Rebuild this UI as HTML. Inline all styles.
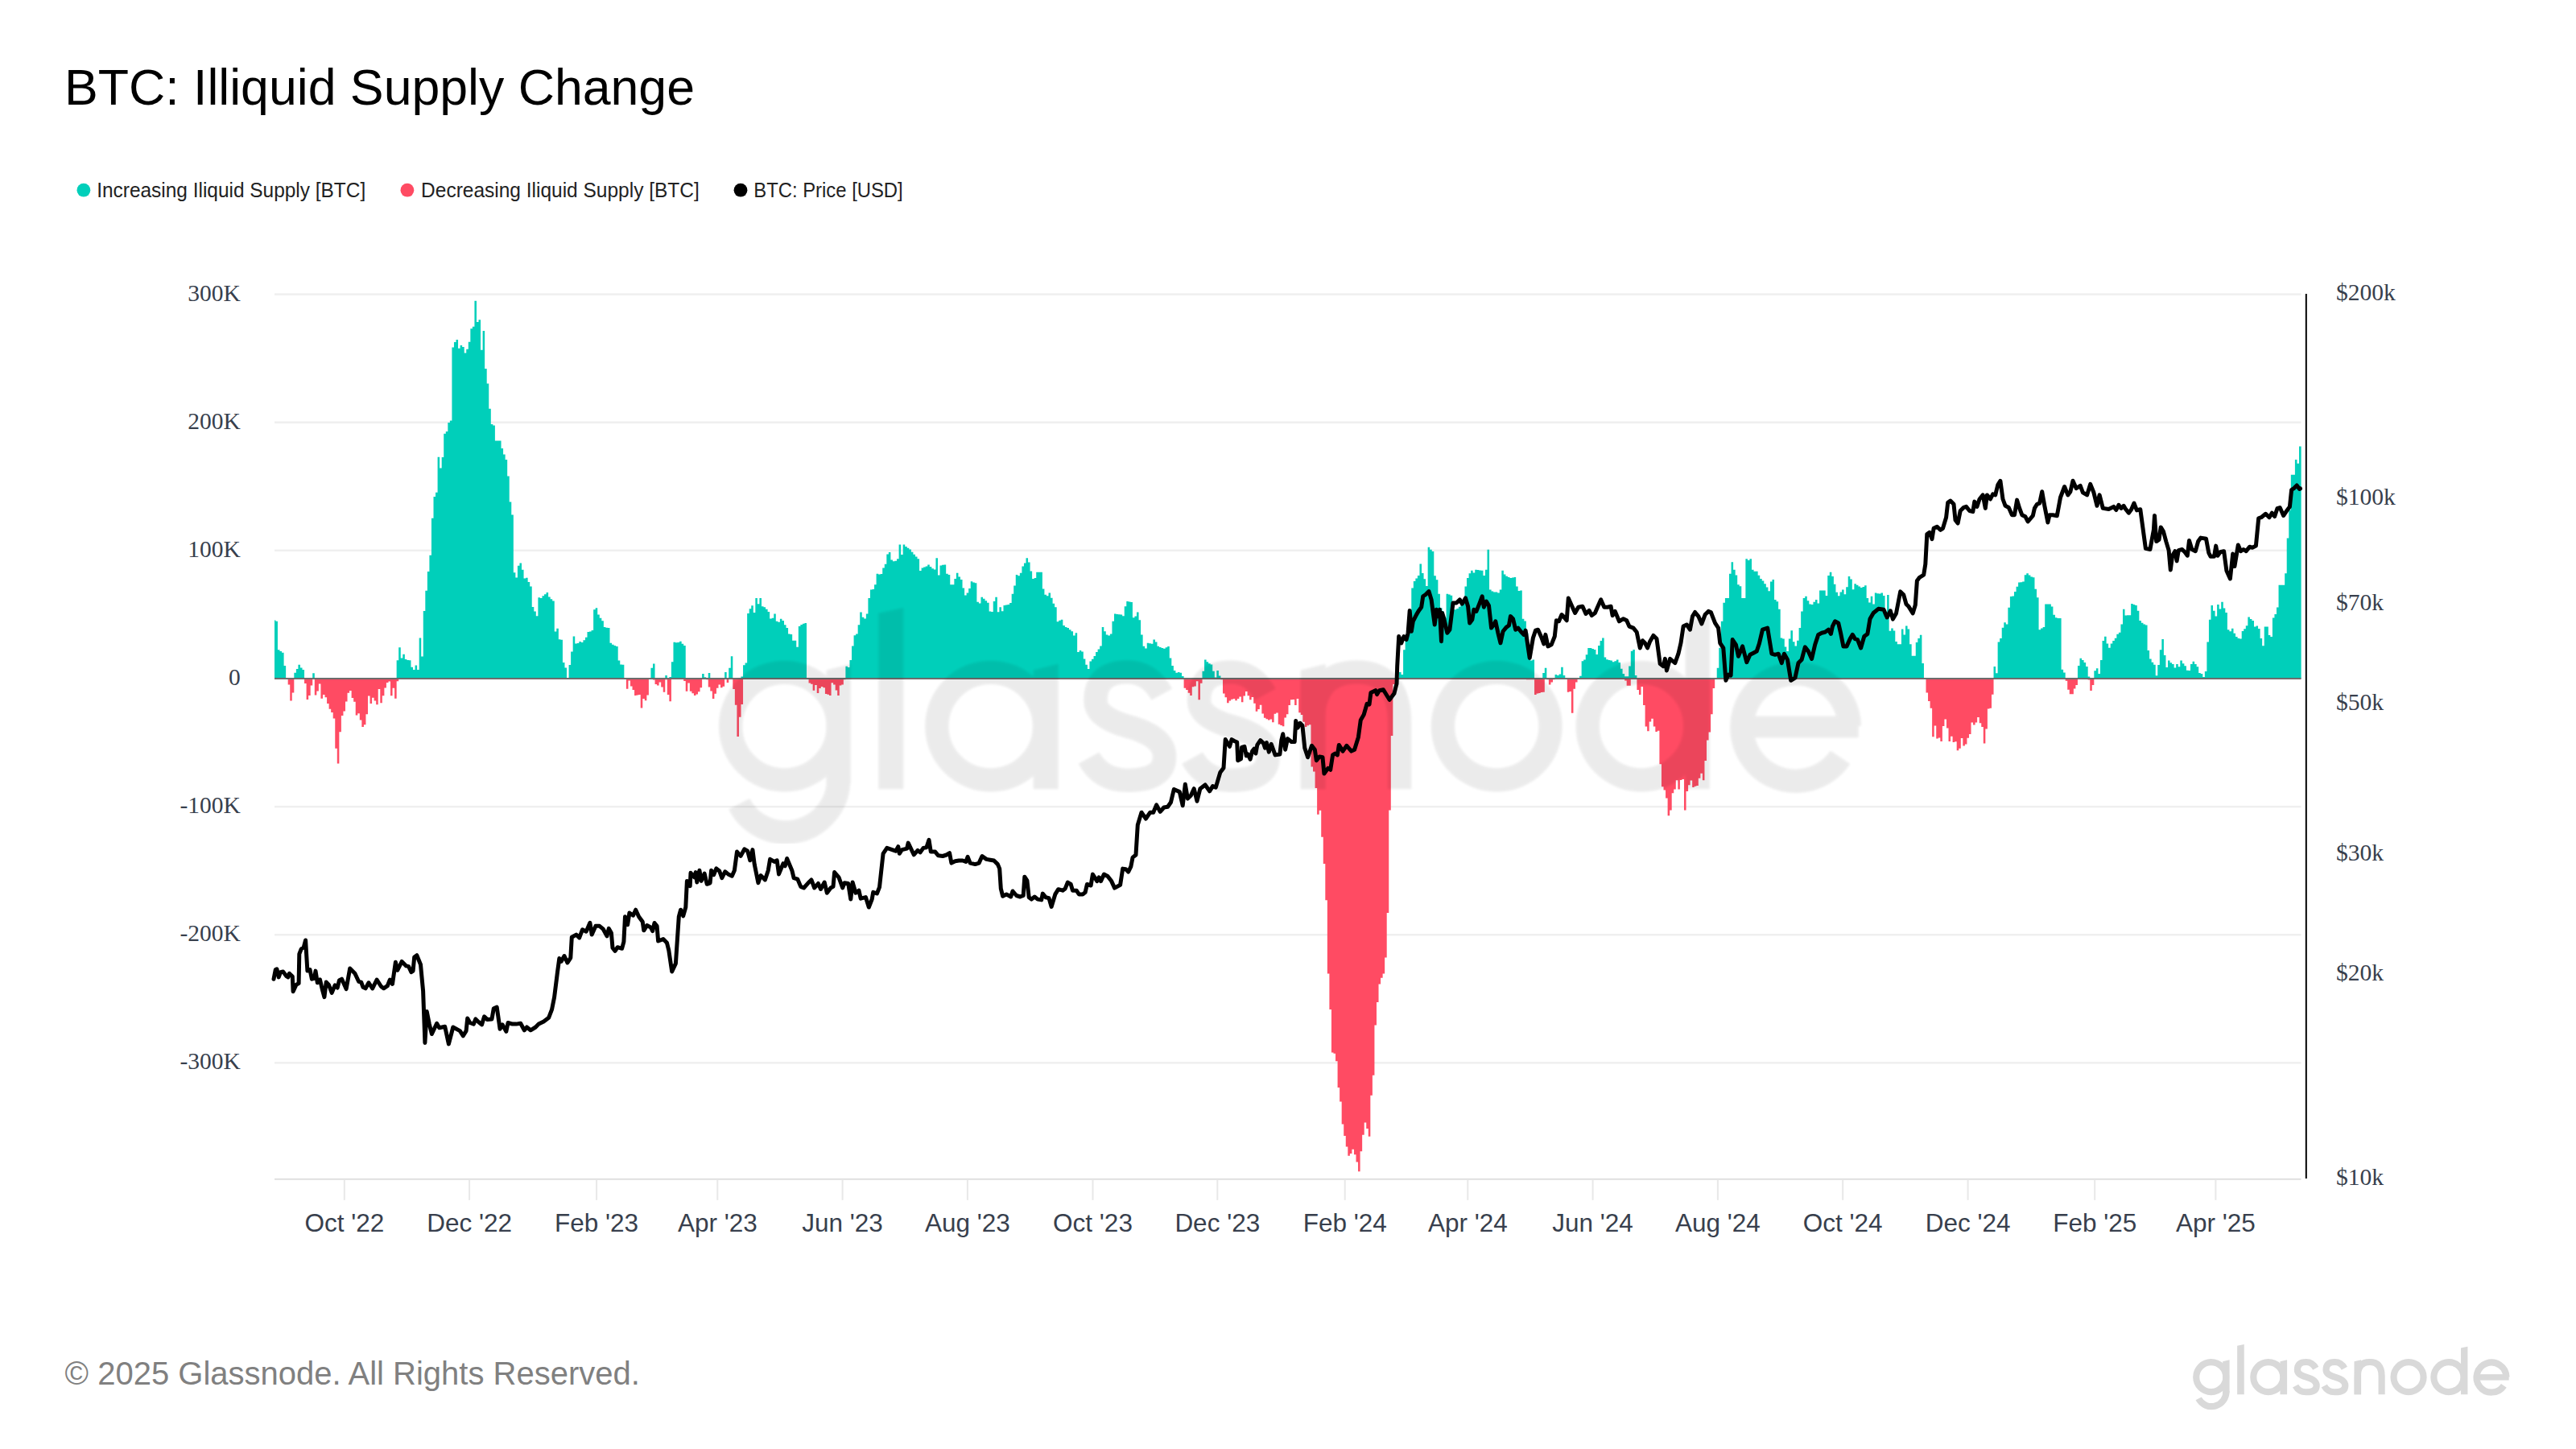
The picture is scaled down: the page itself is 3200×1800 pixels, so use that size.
<!DOCTYPE html>
<html><head><meta charset="utf-8"><title>BTC: Illiquid Supply Change</title>
<style>html,body{margin:0;padding:0;background:#fff;}body{width:3200px;height:1800px;position:relative;overflow:hidden;font-family:"Liberation Sans",sans-serif;}</style>
</head><body>
<svg width="3200" height="1800" viewBox="0 0 3200 1800" style="position:absolute;left:0;top:0"><rect x="341" y="364.35" width="2517.5" height="2.5" fill="#efefef"/><rect x="341" y="523.47" width="2517.5" height="2.5" fill="#efefef"/><rect x="341" y="682.59" width="2517.5" height="2.5" fill="#efefef"/><rect x="341" y="1000.83" width="2517.5" height="2.5" fill="#efefef"/><rect x="341" y="1159.95" width="2517.5" height="2.5" fill="#efefef"/><rect x="341" y="1319.0700000000002" width="2517.5" height="2.5" fill="#efefef"/><path d="M341.00 842.96L341.00 770.6L342.40 770.6L342.40 771.8L344.95 771.8L344.95 807.2L347.49 807.2L347.49 809.1L350.04 809.1L350.04 810.7L352.59 810.7L352.59 827.0L355.13 827.0L355.13 842.4L357.68 842.4L357.68 842.4L360.23 842.4L360.23 843.0L362.77 843.0L362.77 842.4L365.32 842.4L365.32 835.8L367.87 835.8L367.87 830.9L370.41 830.9L370.41 825.8L372.96 825.8L372.96 829.6L375.51 829.6L375.51 832.0L378.05 832.0L378.05 842.4L380.60 842.4L380.60 843.0L383.15 843.0L383.15 843.0L385.69 843.0L385.69 843.0L388.24 843.0L388.24 836.2L390.79 836.2L390.79 842.4L393.33 842.4L393.33 842.4L395.88 842.4L395.88 842.4L398.43 842.4L398.43 842.4L400.97 842.4L400.97 842.4L403.52 842.4L403.52 842.4L406.07 842.4L406.07 842.4L408.61 842.4L408.61 842.4L411.16 842.4L411.16 842.4L413.71 842.4L413.71 842.4L416.25 842.4L416.25 842.4L418.80 842.4L418.80 842.4L421.35 842.4L421.35 842.4L423.89 842.4L423.89 842.4L426.44 842.4L426.44 842.4L428.99 842.4L428.99 842.4L431.53 842.4L431.53 842.4L434.08 842.4L434.08 842.4L436.63 842.4L436.63 842.4L439.17 842.4L439.17 842.4L441.72 842.4L441.72 842.4L444.27 842.4L444.27 842.4L446.81 842.4L446.81 842.4L449.36 842.4L449.36 842.4L451.91 842.4L451.91 842.4L454.45 842.4L454.45 842.4L457.00 842.4L457.00 842.4L459.55 842.4L459.55 842.4L462.09 842.4L462.09 842.4L464.64 842.4L464.64 842.4L467.19 842.4L467.19 842.4L469.73 842.4L469.73 842.4L472.28 842.4L472.28 842.4L474.83 842.4L474.83 842.4L477.38 842.4L477.38 842.4L479.92 842.4L479.92 842.4L482.47 842.4L482.47 842.4L485.02 842.4L485.02 842.4L487.56 842.4L487.56 842.4L490.11 842.4L490.11 842.4L492.66 842.4L492.66 820.2L495.20 820.2L495.20 804.2L497.75 804.2L497.75 817.4L500.30 817.4L500.30 812.7L502.84 812.7L502.84 819.1L505.39 819.1L505.39 819.9L507.94 819.9L507.94 820.2L510.48 820.2L510.48 828.8L513.03 828.8L513.03 832.1L515.58 832.1L515.58 826.6L518.12 826.6L518.12 831.9L520.67 831.9L520.67 792.4L523.22 792.4L523.22 815.4L525.76 815.4L525.76 759.0L528.31 759.0L528.31 733.7L530.86 733.7L530.86 710.1L533.40 710.1L533.40 689.7L535.95 689.7L535.95 643.7L538.50 643.7L538.50 617.0L541.04 617.0L541.04 611.7L543.59 611.7L543.59 567.8L546.14 567.8L546.14 581.4L548.68 581.4L548.68 567.9L551.23 567.9L551.23 538.8L553.78 538.8L553.78 536.1L556.32 536.1L556.32 525.0L558.87 525.0L558.87 522.5L561.42 522.5L561.42 431.6L563.96 431.6L563.96 425.1L566.51 425.1L566.51 422.1L569.06 422.1L569.06 432.8L571.60 432.8L571.60 429.0L574.15 429.0L574.15 431.1L576.70 431.1L576.70 438.6L579.24 438.6L579.24 433.7L581.79 433.7L581.79 424.7L584.34 424.7L584.34 408.3L586.88 408.3L586.88 405.8L589.43 405.8L589.43 373.8L591.98 373.8L591.98 400.0L594.52 400.0L594.52 397.3L597.07 397.3L597.07 434.7L599.62 434.7L599.62 411.1L602.16 411.1L602.16 458.0L604.71 458.0L604.71 476.6L607.26 476.6L607.26 507.7L609.80 507.7L609.80 527.0L612.35 527.0L612.35 528.4L614.90 528.4L614.90 547.5L617.44 547.5L617.44 547.5L619.99 547.5L619.99 547.5L622.54 547.5L622.54 557.1L625.08 557.1L625.08 564.6L627.63 564.6L627.63 571.0L630.18 571.0L630.18 591.4L632.72 591.4L632.72 623.5L635.27 623.5L635.27 639.6L637.82 639.6L637.82 711.3L640.36 711.3L640.36 717.6L642.91 717.6L642.91 702.7L645.46 702.7L645.46 699.5L648.00 699.5L648.00 707.7L650.55 707.7L650.55 718.5L653.10 718.5L653.10 717.7L655.64 717.7L655.64 723.1L658.19 723.1L658.19 728.4L660.74 728.4L660.74 754.1L663.28 754.1L663.28 759.4L665.83 759.4L665.83 765.2L668.38 765.2L668.38 742.3L670.92 742.3L670.92 743.1L673.47 743.1L673.47 740.2L676.02 740.2L676.02 738.2L678.56 738.2L678.56 735.9L681.11 735.9L681.11 741.5L683.66 741.5L683.66 744.3L686.20 744.3L686.20 746.6L688.75 746.6L688.75 784.5L691.30 784.5L691.30 780.8L693.84 780.8L693.84 794.3L696.39 794.3L696.39 794.8L698.94 794.8L698.94 823.1L701.48 823.1L701.48 829.5L704.03 829.5L704.03 843.0L706.58 843.0L706.58 826.1L709.12 826.1L709.12 809.4L711.67 809.4L711.67 790.5L714.22 790.5L714.22 799.4L716.76 799.4L716.76 799.1L719.31 799.1L719.31 796.9L721.86 796.9L721.86 797.9L724.40 797.9L724.40 795.2L726.95 795.2L726.95 791.8L729.50 791.8L729.50 785.1L732.05 785.1L732.05 784.5L734.59 784.5L734.59 783.0L737.14 783.0L737.14 757.3L739.69 757.3L739.69 755.3L742.23 755.3L742.23 763.6L744.78 763.6L744.78 767.7L747.33 767.7L747.33 771.3L749.87 771.3L749.87 779.1L752.42 779.1L752.42 779.7L754.97 779.7L754.97 780.1L757.51 780.1L757.51 798.8L760.06 798.8L760.06 800.8L762.61 800.8L762.61 802.1L765.15 802.1L765.15 802.9L767.70 802.9L767.70 820.4L770.25 820.4L770.25 825.4L772.79 825.4L772.79 825.7L775.34 825.7L775.34 842.2L777.89 842.2L777.89 842.2L780.43 842.2L780.43 842.2L782.98 842.2L782.98 842.2L785.53 842.2L785.53 842.2L788.07 842.2L788.07 842.2L790.62 842.2L790.62 842.2L793.17 842.2L793.17 842.2L795.71 842.2L795.71 842.2L798.26 842.2L798.26 842.2L800.81 842.2L800.81 842.2L803.35 842.2L803.35 842.2L805.90 842.2L805.90 842.2L808.45 842.2L808.45 829.8L810.99 829.8L810.99 824.6L813.54 824.6L813.54 842.2L816.09 842.2L816.09 843.0L818.63 843.0L818.63 843.0L821.18 843.0L821.18 843.0L823.73 843.0L823.73 843.0L826.27 843.0L826.27 839.1L828.82 839.1L828.82 842.2L831.37 842.2L831.37 840.9L833.91 840.9L833.91 822.2L836.46 822.2L836.46 797.7L839.01 797.7L839.01 798.3L841.55 798.3L841.55 798.1L844.10 798.1L844.10 796.7L846.65 796.7L846.65 799.8L849.19 799.8L849.19 801.9L851.74 801.9L851.74 842.2L854.29 842.2L854.29 843.0L856.83 843.0L856.83 843.0L859.38 843.0L859.38 843.0L861.93 843.0L861.93 843.0L864.47 843.0L864.47 843.0L867.02 843.0L867.02 843.0L869.57 843.0L869.57 842.5L872.11 842.5L872.11 837.1L874.66 837.1L874.66 841.2L877.21 841.2L877.21 843.0L879.75 843.0L879.75 836.0L882.30 836.0L882.30 842.2L884.85 842.2L884.85 843.0L887.39 843.0L887.39 843.0L889.94 843.0L889.94 843.0L892.49 843.0L892.49 843.0L895.03 843.0L895.03 843.0L897.58 843.0L897.58 842.2L900.13 842.2L900.13 835.0L902.67 835.0L902.67 842.1L905.22 842.1L905.22 829.7L907.77 829.7L907.77 815.3L910.31 815.3L910.31 842.2L912.86 842.2L912.86 843.0L915.41 843.0L915.41 843.0L917.95 843.0L917.95 843.0L920.50 843.0L920.50 840.5L923.05 840.5L923.05 826.3L925.59 826.3L925.59 823.6L928.14 823.6L928.14 761.9L930.69 761.9L930.69 756.3L933.23 756.3L933.23 752.2L935.78 752.2L935.78 760.9L938.33 760.9L938.33 742.9L940.87 742.9L940.87 750.3L943.42 750.3L943.42 742.9L945.97 742.9L945.97 753.2L948.51 753.2L948.51 754.2L951.06 754.2L951.06 756.8L953.61 756.8L953.61 760.0L956.15 760.0L956.15 768.5L958.70 768.5L958.70 767.7L961.25 767.7L961.25 762.5L963.79 762.5L963.79 771.8L966.34 771.8L966.34 772.7L968.89 772.7L968.89 768.7L971.43 768.7L971.43 770.9L973.98 770.9L973.98 776.2L976.53 776.2L976.53 780.1L979.07 780.1L979.07 787.4L981.62 787.4L981.62 788.1L984.17 788.1L984.17 795.8L986.72 795.8L986.72 795.7L989.26 795.7L989.26 803.7L991.81 803.7L991.81 777.9L994.36 777.9L994.36 776.0L996.90 776.0L996.90 774.8L999.45 774.8L999.45 773.9L1002.00 773.9L1002.00 842.2L1004.54 842.2L1004.54 842.2L1007.09 842.2L1007.09 842.2L1009.64 842.2L1009.64 842.2L1012.18 842.2L1012.18 842.2L1014.73 842.2L1014.73 842.2L1017.28 842.2L1017.28 842.2L1019.82 842.2L1019.82 842.2L1022.37 842.2L1022.37 842.2L1024.92 842.2L1024.92 842.2L1027.46 842.2L1027.46 842.2L1030.01 842.2L1030.01 842.2L1032.56 842.2L1032.56 842.2L1035.10 842.2L1035.10 842.2L1037.65 842.2L1037.65 842.2L1040.20 842.2L1040.20 842.2L1042.74 842.2L1042.74 842.2L1045.29 842.2L1045.29 842.2L1047.84 842.2L1047.84 842.2L1050.38 842.2L1050.38 827.7L1052.93 827.7L1052.93 829.0L1055.48 829.0L1055.48 819.9L1058.02 819.9L1058.02 802.6L1060.57 802.6L1060.57 789.3L1063.12 789.3L1063.12 787.4L1065.66 787.4L1065.66 776.2L1068.21 776.2L1068.21 760.5L1070.76 760.5L1070.76 766.7L1073.30 766.7L1073.30 768.4L1075.85 768.4L1075.85 762.5L1078.40 762.5L1078.40 743.1L1080.94 743.1L1080.94 732.5L1083.49 732.5L1083.49 731.9L1086.04 731.9L1086.04 726.3L1088.58 726.3L1088.58 712.8L1091.13 712.8L1091.13 713.4L1093.68 713.4L1093.68 713.1L1096.22 713.1L1096.22 705.5L1098.77 705.5L1098.77 700.7L1101.32 700.7L1101.32 688.4L1103.86 688.4L1103.86 685.9L1106.41 685.9L1106.41 695.4L1108.96 695.4L1108.96 697.3L1111.50 697.3L1111.50 696.8L1114.05 696.8L1114.05 694.2L1116.60 694.2L1116.60 676.6L1119.14 676.6L1119.14 689.0L1121.69 689.0L1121.69 676.6L1124.24 676.6L1124.24 679.0L1126.78 679.0L1126.78 680.7L1129.33 680.7L1129.33 682.6L1131.88 682.6L1131.88 685.7L1134.42 685.7L1134.42 688.7L1136.97 688.7L1136.97 691.5L1139.52 691.5L1139.52 694.2L1142.06 694.2L1142.06 709.1L1144.61 709.1L1144.61 705.6L1147.16 705.6L1147.16 704.6L1149.70 704.6L1149.70 703.5L1152.25 703.5L1152.25 701.4L1154.80 701.4L1154.80 704.0L1157.34 704.0L1157.34 706.3L1159.89 706.3L1159.89 707.5L1162.44 707.5L1162.44 693.2L1164.98 693.2L1164.98 714.4L1167.53 714.4L1167.53 702.4L1170.08 702.4L1170.08 701.8L1172.62 701.8L1172.62 701.4L1175.17 701.4L1175.17 712.8L1177.72 712.8L1177.72 713.9L1180.26 713.9L1180.26 726.3L1182.81 726.3L1182.81 726.3L1185.36 726.3L1185.36 719.0L1187.90 719.0L1187.90 711.8L1190.45 711.8L1190.45 716.5L1193.00 716.5L1193.00 720.1L1195.54 720.1L1195.54 730.4L1198.09 730.4L1198.09 739.6L1200.64 739.6L1200.64 736.6L1203.18 736.6L1203.18 730.9L1205.73 730.9L1205.73 722.2L1208.28 722.2L1208.28 723.5L1210.82 723.5L1210.82 724.2L1213.37 724.2L1213.37 747.7L1215.92 747.7L1215.92 749.6L1218.46 749.6L1218.46 741.8L1221.01 741.8L1221.01 743.7L1223.56 743.7L1223.56 746.2L1226.10 746.2L1226.10 748.8L1228.65 748.8L1228.65 759.4L1231.20 759.4L1231.20 760.1L1233.75 760.1L1233.74 747.0L1236.29 747.0L1236.29 741.8L1238.84 741.8L1238.84 760.2L1241.39 760.2L1241.39 754.2L1243.93 754.2L1243.93 759.3L1246.48 759.3L1246.48 752.1L1249.03 752.1L1249.03 751.6L1251.57 751.6L1251.57 751.0L1254.12 751.0L1254.12 749.1L1256.67 749.1L1256.67 737.7L1259.21 737.7L1259.21 727.5L1261.76 727.5L1261.76 713.9L1264.31 713.9L1264.31 715.2L1266.85 715.2L1266.85 711.8L1269.40 711.8L1269.40 703.6L1271.95 703.6L1271.95 699.4L1274.49 699.4L1274.49 693.2L1277.04 693.2L1277.04 698.5L1279.59 698.5L1279.59 709.6L1282.13 709.6L1282.13 719.0L1284.68 719.0L1284.68 718.0L1287.23 718.0L1287.23 710.8L1289.77 710.8L1289.77 710.8L1292.32 710.8L1292.32 710.8L1294.87 710.8L1294.87 731.5L1297.41 731.5L1297.41 738.7L1299.96 738.7L1299.96 740.3L1302.51 740.3L1302.51 736.6L1305.05 736.6L1305.05 742.8L1307.60 742.8L1307.60 749.8L1310.15 749.8L1310.15 754.2L1312.69 754.2L1312.69 772.2L1315.24 772.2L1315.24 770.8L1317.79 770.8L1317.79 769.8L1320.33 769.8L1320.33 777.0L1322.88 777.0L1322.88 779.0L1325.43 779.0L1325.43 780.0L1327.97 780.0L1327.97 782.3L1330.52 782.3L1330.52 784.3L1333.07 784.3L1333.07 789.4L1335.61 789.4L1335.61 786.3L1338.16 786.3L1338.16 809.9L1340.71 809.9L1340.71 808.1L1343.25 808.1L1343.25 809.4L1345.80 809.4L1345.80 818.6L1348.35 818.6L1348.35 825.7L1350.89 825.7L1350.89 831.0L1353.44 831.0L1353.44 821.5L1355.99 821.5L1355.99 818.7L1358.53 818.7L1358.53 815.0L1361.08 815.0L1361.08 810.0L1363.63 810.0L1363.63 806.4L1366.17 806.4L1366.17 802.5L1368.72 802.5L1368.72 779.1L1371.27 779.1L1371.27 784.2L1373.81 784.2L1373.81 788.4L1376.36 788.4L1376.36 789.4L1378.91 789.4L1378.91 787.5L1381.45 787.5L1381.45 771.8L1384.00 771.8L1384.00 762.5L1386.55 762.5L1386.55 762.9L1389.09 762.9L1389.09 763.3L1391.64 763.3L1391.64 763.6L1394.19 763.6L1394.19 765.2L1396.73 765.2L1396.73 753.2L1399.28 753.2L1399.28 747.0L1401.83 747.0L1401.83 747.5L1404.37 747.5L1404.37 748.0L1406.92 748.0L1406.92 767.2L1409.47 767.2L1409.47 765.6L1412.01 765.6L1412.01 760.5L1414.56 760.5L1414.56 770.3L1417.11 770.3L1417.11 788.6L1419.65 788.6L1419.65 802.7L1422.20 802.7L1422.20 805.4L1424.75 805.4L1424.75 798.8L1427.29 798.8L1427.29 799.2L1429.84 799.2L1429.84 799.7L1432.39 799.7L1432.39 794.6L1434.93 794.6L1434.93 797.6L1437.48 797.6L1437.48 802.7L1440.03 802.7L1440.03 804.1L1442.57 804.1L1442.57 805.0L1445.12 805.0L1445.12 805.8L1447.67 805.8L1447.67 804.2L1450.21 804.2L1450.21 802.9L1452.76 802.9L1452.76 817.4L1455.31 817.4L1455.31 827.1L1457.85 827.1L1457.85 833.1L1460.40 833.1L1460.40 835.7L1462.95 835.7L1462.95 835.0L1465.49 835.0L1465.49 835.8L1468.04 835.8L1468.04 840.1L1470.59 840.1L1470.59 842.2L1473.13 842.2L1473.13 842.2L1475.68 842.2L1475.68 842.2L1478.23 842.2L1478.23 842.2L1480.77 842.2L1480.77 842.2L1483.32 842.2L1483.32 842.2L1485.87 842.2L1485.87 842.2L1488.42 842.2L1488.41 842.2L1490.96 842.2L1490.96 842.2L1493.51 842.2L1493.51 833.7L1496.06 833.7L1496.06 819.5L1498.60 819.5L1498.60 822.2L1501.15 822.2L1501.15 824.3L1503.70 824.3L1503.70 825.6L1506.24 825.6L1506.24 833.8L1508.79 833.8L1508.79 841.6L1511.34 841.6L1511.34 832.9L1513.88 832.9L1513.88 839.5L1516.43 839.5L1516.43 842.2L1518.98 842.2L1518.98 842.2L1521.52 842.2L1521.52 842.2L1524.07 842.2L1524.07 842.2L1526.62 842.2L1526.62 842.2L1529.16 842.2L1529.16 842.2L1531.71 842.2L1531.71 842.2L1534.26 842.2L1534.26 842.2L1536.80 842.2L1536.80 842.2L1539.35 842.2L1539.35 842.2L1541.90 842.2L1541.90 842.2L1544.44 842.2L1544.44 842.2L1546.99 842.2L1546.99 842.2L1549.54 842.2L1549.54 842.2L1552.08 842.2L1552.08 842.2L1554.63 842.2L1554.63 842.2L1557.18 842.2L1557.18 842.2L1559.72 842.2L1559.72 842.2L1562.27 842.2L1562.27 842.2L1564.82 842.2L1564.82 842.2L1567.36 842.2L1567.36 842.2L1569.91 842.2L1569.91 842.2L1572.46 842.2L1572.46 842.2L1575.00 842.2L1575.00 842.2L1577.55 842.2L1577.55 842.2L1580.10 842.2L1580.10 842.2L1582.64 842.2L1582.64 842.2L1585.19 842.2L1585.19 842.2L1587.74 842.2L1587.74 842.2L1590.28 842.2L1590.28 842.2L1592.83 842.2L1592.83 842.2L1595.38 842.2L1595.38 842.2L1597.92 842.2L1597.92 842.2L1600.47 842.2L1600.47 842.2L1603.02 842.2L1603.02 842.2L1605.56 842.2L1605.56 842.2L1608.11 842.2L1608.11 842.2L1610.66 842.2L1610.66 842.2L1613.20 842.2L1613.20 842.2L1615.75 842.2L1615.75 842.2L1618.30 842.2L1618.30 842.2L1620.84 842.2L1620.84 842.2L1623.39 842.2L1623.39 842.2L1625.94 842.2L1625.94 842.2L1628.48 842.2L1628.48 842.2L1631.03 842.2L1631.03 842.2L1633.58 842.2L1633.58 842.2L1636.12 842.2L1636.12 842.2L1638.67 842.2L1638.67 842.2L1641.22 842.2L1641.22 842.2L1643.76 842.2L1643.76 842.2L1646.31 842.2L1646.31 842.2L1648.86 842.2L1648.86 842.2L1651.40 842.2L1651.40 842.2L1653.95 842.2L1653.95 842.2L1656.50 842.2L1656.50 842.2L1659.04 842.2L1659.04 842.2L1661.59 842.2L1661.59 842.2L1664.14 842.2L1664.14 842.2L1666.68 842.2L1666.68 842.2L1669.23 842.2L1669.23 842.2L1671.78 842.2L1671.78 842.2L1674.32 842.2L1674.32 842.2L1676.87 842.2L1676.87 842.2L1679.42 842.2L1679.42 842.2L1681.96 842.2L1681.96 842.2L1684.51 842.2L1684.51 842.2L1687.06 842.2L1687.06 842.2L1689.60 842.2L1689.60 842.2L1692.15 842.2L1692.15 842.2L1694.70 842.2L1694.70 842.2L1697.24 842.2L1697.24 842.2L1699.79 842.2L1699.79 842.2L1702.34 842.2L1702.34 842.2L1704.88 842.2L1704.88 842.2L1707.43 842.2L1707.43 842.2L1709.98 842.2L1709.98 842.2L1712.52 842.2L1712.52 842.2L1715.07 842.2L1715.07 842.2L1717.62 842.2L1717.62 842.2L1720.16 842.2L1720.16 842.2L1722.71 842.2L1722.71 842.2L1725.26 842.2L1725.26 842.2L1727.80 842.2L1727.80 842.2L1730.35 842.2L1730.35 842.2L1732.90 842.2L1732.90 842.2L1735.44 842.2L1735.44 842.2L1737.99 842.2L1737.99 835.0L1740.54 835.0L1740.54 838.1L1743.09 838.1L1743.09 807.3L1745.63 807.3L1745.63 794.6L1748.18 794.6L1748.18 785.5L1750.73 785.5L1750.73 761.1L1753.27 761.1L1753.27 730.5L1755.82 730.5L1755.82 722.1L1758.37 722.1L1758.37 718.5L1760.91 718.5L1760.91 714.9L1763.46 714.9L1763.46 700.4L1766.01 700.4L1766.01 712.1L1768.55 712.1L1768.55 719.3L1771.10 719.3L1771.10 727.9L1773.65 727.9L1773.65 679.7L1776.19 679.7L1776.19 682.8L1778.74 682.8L1778.74 684.9L1781.29 684.9L1781.29 715.2L1783.83 715.2L1783.83 720.3L1786.38 720.3L1786.38 737.7L1788.93 737.7L1788.93 755.3L1791.47 755.3L1791.47 759.4L1794.02 759.4L1794.02 767.5L1796.57 767.5L1796.57 737.7L1799.11 737.7L1799.11 738.6L1801.66 738.6L1801.66 739.8L1804.21 739.8L1804.21 757.3L1806.75 757.3L1806.75 757.2L1809.30 757.2L1809.30 756.0L1811.85 756.0L1811.85 753.7L1814.39 753.7L1814.39 750.3L1816.94 750.3L1816.94 746.5L1819.49 746.5L1819.49 728.4L1822.03 728.4L1822.03 718.0L1824.58 718.0L1824.58 712.3L1827.13 712.3L1827.13 708.7L1829.67 708.7L1829.67 711.4L1832.22 711.4L1832.22 707.7L1834.77 707.7L1834.77 707.9L1837.31 707.9L1837.31 708.4L1839.86 708.4L1839.86 708.7L1842.41 708.7L1842.41 714.9L1844.95 714.9L1844.95 707.7L1847.50 707.7L1847.50 682.8L1850.05 682.8L1850.05 732.5L1852.59 732.5L1852.59 734.5L1855.14 734.5L1855.14 735.6L1857.69 735.6L1857.69 735.6L1860.23 735.6L1860.23 736.6L1862.78 736.6L1862.78 732.5L1865.33 732.5L1865.33 708.7L1867.87 708.7L1867.87 713.4L1870.42 713.4L1870.42 715.8L1872.97 715.8L1872.97 717.0L1875.51 717.0L1875.51 717.9L1878.06 717.9L1878.06 717.5L1880.61 717.5L1880.61 717.0L1883.15 717.0L1883.15 728.4L1885.70 728.4L1885.70 734.1L1888.25 734.1L1888.25 733.5L1890.79 733.5L1890.79 768.8L1893.34 768.8L1893.34 771.5L1895.89 771.5L1895.89 786.4L1898.43 786.4L1898.43 813.2L1900.98 813.2L1900.98 820.4L1903.53 820.4L1903.53 819.5L1906.07 819.5L1906.07 842.2L1908.62 842.2L1908.62 843.0L1911.17 843.0L1911.17 843.0L1913.71 843.0L1913.71 843.0L1916.26 843.0L1916.26 836.0L1918.81 836.0L1918.81 829.8L1921.35 829.8L1921.35 841.9L1923.90 841.9L1923.90 843.0L1926.45 843.0L1926.45 843.0L1928.99 843.0L1928.99 843.0L1931.54 843.0L1931.54 838.1L1934.09 838.1L1934.09 838.9L1936.63 838.9L1936.63 837.4L1939.18 837.4L1939.18 828.8L1941.73 828.8L1941.73 839.1L1944.27 839.1L1944.27 843.0L1946.82 843.0L1946.82 842.2L1949.37 842.2L1949.37 842.2L1951.91 842.2L1951.91 842.2L1954.46 842.2L1954.46 842.2L1957.01 842.2L1957.01 842.2L1959.55 842.2L1959.55 842.2L1962.10 842.2L1962.10 839.8L1964.65 839.8L1964.65 821.3L1967.19 821.3L1967.19 819.5L1969.74 819.5L1969.74 813.3L1972.29 813.3L1972.29 805.0L1974.83 805.0L1974.83 805.0L1977.38 805.0L1977.38 806.1L1979.93 806.1L1979.93 807.0L1982.47 807.0L1982.47 813.0L1985.02 813.0L1985.02 802.1L1987.57 802.1L1987.57 796.0L1990.11 796.0L1990.11 792.5L1992.66 792.5L1992.66 816.4L1995.21 816.4L1995.21 819.3L1997.75 819.3L1997.76 820.1L2000.30 820.1L2000.30 820.5L2002.85 820.5L2002.85 822.2L2005.40 822.2L2005.40 821.2L2007.94 821.2L2007.94 819.5L2010.49 819.5L2010.49 823.1L2013.04 823.1L2013.04 830.7L2015.58 830.7L2015.58 837.1L2018.13 837.1L2018.13 840.2L2020.68 840.2L2020.68 840.3L2023.22 840.3L2023.22 827.5L2025.77 827.5L2025.77 808.8L2028.32 808.8L2028.32 807.0L2030.86 807.0L2030.86 839.1L2033.41 839.1L2033.41 842.2L2035.96 842.2L2035.96 842.2L2038.50 842.2L2038.50 842.2L2041.05 842.2L2041.05 842.2L2043.60 842.2L2043.60 842.2L2046.14 842.2L2046.14 842.2L2048.69 842.2L2048.69 842.2L2051.24 842.2L2051.24 842.2L2053.78 842.2L2053.78 842.2L2056.33 842.2L2056.33 842.2L2058.88 842.2L2058.88 842.2L2061.42 842.2L2061.42 842.2L2063.97 842.2L2063.97 842.2L2066.52 842.2L2066.52 842.2L2069.06 842.2L2069.06 842.2L2071.61 842.2L2071.61 842.2L2074.16 842.2L2074.16 842.2L2076.70 842.2L2076.70 842.2L2079.25 842.2L2079.25 842.2L2081.80 842.2L2081.80 842.2L2084.34 842.2L2084.34 842.2L2086.89 842.2L2086.89 842.2L2089.44 842.2L2089.44 842.2L2091.98 842.2L2091.98 842.2L2094.53 842.2L2094.53 842.2L2097.08 842.2L2097.08 842.2L2099.62 842.2L2099.62 842.2L2102.17 842.2L2102.17 842.2L2104.72 842.2L2104.72 842.2L2107.26 842.2L2107.26 842.2L2109.81 842.2L2109.81 842.2L2112.36 842.2L2112.36 842.2L2114.90 842.2L2114.90 842.2L2117.45 842.2L2117.45 842.2L2120.00 842.2L2120.00 842.2L2122.54 842.2L2122.54 842.2L2125.09 842.2L2125.09 842.2L2127.64 842.2L2127.64 842.2L2130.18 842.2L2130.18 842.2L2132.73 842.2L2132.73 829.8L2135.28 829.8L2135.28 804.8L2137.82 804.8L2137.82 771.8L2140.37 771.8L2140.37 748.8L2142.92 748.8L2142.92 742.9L2145.46 742.9L2145.46 742.9L2148.01 742.9L2148.01 712.8L2150.56 712.8L2150.56 698.3L2153.10 698.3L2153.10 707.7L2155.65 707.7L2155.65 714.6L2158.20 714.6L2158.20 726.3L2160.74 726.3L2160.74 728.2L2163.29 728.2L2163.29 742.9L2165.84 742.9L2165.84 742.9L2168.38 742.9L2168.38 694.2L2170.93 694.2L2170.93 696.0L2173.48 696.0L2173.48 694.2L2176.02 694.2L2176.02 707.7L2178.57 707.7L2178.57 709.7L2181.12 709.7L2181.12 709.7L2183.66 709.7L2183.66 714.7L2186.21 714.7L2186.21 719.0L2188.76 719.0L2188.76 721.4L2191.30 721.4L2191.30 725.3L2193.85 725.3L2193.85 729.4L2196.40 729.4L2196.40 734.2L2198.94 734.2L2198.94 722.5L2201.49 722.5L2201.49 720.1L2204.04 720.1L2204.04 744.9L2206.58 744.9L2206.58 747.3L2209.13 747.3L2209.13 756.8L2211.68 756.8L2211.68 792.5L2214.22 792.5L2214.22 793.4L2216.77 793.4L2216.77 803.5L2219.32 803.5L2219.32 809.1L2221.86 809.1L2221.86 793.6L2224.41 793.6L2224.41 783.2L2226.96 783.2L2226.96 797.2L2229.50 797.2L2229.50 802.4L2232.05 802.4L2232.05 795.7L2234.60 795.7L2234.60 780.1L2237.14 780.1L2237.14 759.4L2239.69 759.4L2239.69 742.9L2242.24 742.9L2242.24 740.8L2244.78 740.8L2244.78 746.2L2247.33 746.2L2247.33 750.6L2249.88 750.6L2249.88 750.9L2252.42 750.9L2252.42 747.7L2254.97 747.7L2254.97 744.9L2257.52 744.9L2257.52 749.6L2260.07 749.6L2260.07 733.5L2262.61 733.5L2262.61 733.5L2265.16 733.5L2265.16 733.5L2267.71 733.5L2267.71 740.0L2270.25 740.0L2270.25 714.9L2272.80 714.9L2272.80 710.8L2275.35 710.8L2275.35 715.9L2277.89 715.9L2277.89 725.8L2280.44 725.8L2280.44 735.8L2282.99 735.8L2282.99 740.2L2285.53 740.2L2285.53 735.6L2288.08 735.6L2288.08 732.5L2290.63 732.5L2290.63 738.3L2293.17 738.3L2293.17 729.3L2295.72 729.3L2295.72 715.9L2298.27 715.9L2298.27 719.6L2300.81 719.6L2300.81 732.3L2303.36 732.3L2303.36 725.3L2305.91 725.3L2305.91 726.8L2308.45 726.8L2308.45 728.4L2311.00 728.4L2311.00 729.9L2313.55 729.9L2313.55 729.0L2316.09 729.0L2316.09 727.3L2318.64 727.3L2318.64 742.9L2321.19 742.9L2321.19 748.6L2323.73 748.6L2323.73 740.8L2326.28 740.8L2326.28 750.5L2328.83 750.5L2328.83 736.6L2331.37 736.6L2331.37 737.2L2333.92 737.2L2333.92 737.4L2336.47 737.4L2336.47 736.6L2339.01 736.6L2339.01 740.1L2341.56 740.1L2341.56 768.1L2344.11 768.1L2344.11 739.1L2346.65 739.1L2346.65 783.7L2349.20 783.7L2349.20 780.5L2351.75 780.5L2351.75 783.6L2354.29 783.6L2354.29 796.9L2356.84 796.9L2356.84 800.2L2359.39 800.2L2359.39 800.2L2361.93 800.2L2361.93 781.5L2364.48 781.5L2364.48 788.6L2367.03 788.6L2367.03 777.4L2369.57 777.4L2369.57 781.5L2372.12 781.5L2372.12 800.2L2374.67 800.2L2374.67 814.7L2377.21 814.7L2377.21 814.7L2379.76 814.7L2379.76 798.1L2382.31 798.1L2382.31 792.9L2384.85 792.9L2384.85 788.8L2387.40 788.8L2387.40 824.0L2389.95 824.0L2389.95 842.6L2392.49 842.6L2392.49 842.6L2395.04 842.6L2395.04 842.6L2397.59 842.6L2397.59 842.6L2400.13 842.6L2400.13 842.6L2402.68 842.6L2402.68 842.6L2405.23 842.6L2405.23 842.6L2407.77 842.6L2407.77 842.6L2410.32 842.6L2410.32 842.6L2412.87 842.6L2412.87 842.6L2415.41 842.6L2415.41 842.6L2417.96 842.6L2417.96 842.6L2420.51 842.6L2420.51 842.6L2423.05 842.6L2423.05 842.6L2425.60 842.6L2425.60 842.6L2428.15 842.6L2428.15 842.6L2430.69 842.6L2430.69 842.6L2433.24 842.6L2433.24 842.6L2435.79 842.6L2435.79 842.6L2438.33 842.6L2438.33 842.6L2440.88 842.6L2440.88 842.6L2443.43 842.6L2443.43 842.6L2445.97 842.6L2445.97 842.6L2448.52 842.6L2448.52 842.6L2451.07 842.6L2451.07 842.6L2453.61 842.6L2453.61 842.6L2456.16 842.6L2456.16 842.6L2458.71 842.6L2458.71 842.6L2461.25 842.6L2461.25 842.6L2463.80 842.6L2463.80 842.6L2466.35 842.6L2466.35 842.6L2468.89 842.6L2468.89 842.6L2471.44 842.6L2471.44 842.6L2473.99 842.6L2473.99 842.6L2476.53 842.6L2476.53 828.1L2479.08 828.1L2479.08 836.3L2481.63 836.3L2481.63 797.5L2484.17 797.5L2484.17 792.9L2486.72 792.9L2486.72 779.8L2489.27 779.8L2489.27 773.3L2491.81 773.3L2491.81 775.5L2494.36 775.5L2494.36 754.8L2496.91 754.8L2496.91 741.1L2499.45 741.1L2499.45 740.5L2502.00 740.5L2502.00 734.9L2504.55 734.9L2504.55 728.7L2507.09 728.7L2507.10 723.6L2509.64 723.6L2509.64 723.2L2512.19 723.2L2512.19 722.5L2514.74 722.5L2514.74 714.2L2517.28 714.2L2517.28 712.2L2519.83 712.2L2519.83 714.5L2522.38 714.5L2522.38 716.5L2524.92 716.5L2524.92 717.3L2527.47 717.3L2527.47 731.8L2530.02 731.8L2530.02 742.2L2532.56 742.2L2532.56 782.3L2535.11 782.3L2535.11 780.5L2537.66 780.5L2537.66 779.0L2540.20 779.0L2540.20 750.5L2542.75 750.5L2542.75 750.5L2545.30 750.5L2545.30 750.5L2547.84 750.5L2547.84 753.6L2550.39 753.6L2550.39 763.8L2552.94 763.8L2552.94 767.3L2555.48 767.3L2555.48 768.1L2558.03 768.1L2558.03 768.1L2560.58 768.1L2560.58 831.7L2563.12 831.7L2563.12 835.4L2565.67 835.4L2565.67 842.6L2568.22 842.6L2568.22 842.6L2570.76 842.6L2570.76 842.6L2573.31 842.6L2573.31 842.6L2575.86 842.6L2575.86 842.6L2578.40 842.6L2578.40 842.6L2580.95 842.6L2580.95 827.1L2583.50 827.1L2583.50 817.8L2586.04 817.8L2586.04 819.9L2588.59 819.9L2588.59 822.9L2591.14 822.9L2591.14 828.1L2593.68 828.1L2593.68 840.5L2596.23 840.5L2596.23 843.0L2598.78 843.0L2598.78 843.0L2601.32 843.0L2601.32 833.3L2603.87 833.3L2603.87 830.2L2606.42 830.2L2606.42 837.1L2608.96 837.1L2608.96 820.0L2611.51 820.0L2611.51 796.1L2614.06 796.1L2614.06 790.8L2616.60 790.8L2616.60 799.4L2619.15 799.4L2619.15 804.8L2621.70 804.8L2621.70 799.5L2624.24 799.5L2624.24 796.0L2626.79 796.0L2626.79 792.7L2629.34 792.7L2629.34 787.7L2631.88 787.7L2631.88 785.8L2634.43 785.8L2634.43 775.6L2636.98 775.6L2636.98 756.7L2639.52 756.7L2639.52 764.4L2642.07 764.4L2642.07 764.3L2644.62 764.3L2644.62 764.3L2647.16 764.3L2647.16 749.9L2649.71 749.9L2649.71 750.9L2652.26 750.9L2652.26 752.1L2654.80 752.1L2654.80 758.7L2657.35 758.7L2657.35 770.9L2659.90 770.9L2659.90 773.7L2662.44 773.7L2662.44 775.6L2664.99 775.6L2664.99 776.4L2667.54 776.4L2667.54 808.1L2670.08 808.1L2670.08 818.4L2672.63 818.4L2672.63 822.8L2675.18 822.8L2675.18 825.8L2677.72 825.8L2677.72 839.2L2680.27 839.2L2680.27 826.1L2682.82 826.1L2682.82 807.3L2685.36 807.3L2685.36 794.1L2687.91 794.1L2687.91 813.9L2690.46 813.9L2690.46 828.9L2693.00 828.9L2693.00 820.6L2695.55 820.6L2695.55 823.3L2698.10 823.3L2698.10 825.0L2700.64 825.0L2700.64 829.4L2703.19 829.4L2703.19 825.0L2705.74 825.0L2705.74 828.3L2708.28 828.3L2708.28 820.6L2710.83 820.6L2710.83 824.2L2713.38 824.2L2713.38 827.2L2715.92 827.2L2715.92 832.8L2718.47 832.8L2718.47 833.1L2721.02 833.1L2721.02 825.0L2723.56 825.0L2723.56 821.7L2726.11 821.7L2726.11 824.9L2728.66 824.9L2728.66 828.3L2731.20 828.3L2731.20 836.1L2733.75 836.1L2733.75 836.9L2736.30 836.9L2736.30 840.9L2738.84 840.9L2738.84 833.9L2741.39 833.9L2741.39 797.4L2743.94 797.4L2743.94 769.8L2746.48 769.8L2746.48 752.1L2749.03 752.1L2749.03 758.8L2751.58 758.8L2751.58 765.6L2754.12 765.6L2754.12 751.0L2756.67 751.0L2756.67 756.5L2759.22 756.5L2759.22 747.7L2761.76 747.7L2761.76 755.4L2764.31 755.4L2764.31 760.9L2766.86 760.9L2766.86 782.2L2769.41 782.2L2769.41 784.3L2771.95 784.3L2771.95 780.8L2774.50 780.8L2774.50 786.7L2777.05 786.7L2777.05 790.9L2779.59 790.9L2779.59 793.0L2782.14 793.0L2782.14 793.5L2784.69 793.5L2784.69 784.1L2787.23 784.1L2787.23 781.2L2789.78 781.2L2789.78 777.2L2792.33 777.2L2792.33 766.5L2794.87 766.5L2794.87 769.0L2797.42 769.0L2797.42 770.9L2799.97 770.9L2799.97 778.5L2802.51 778.5L2802.51 777.5L2805.06 777.5L2805.06 781.1L2807.61 781.1L2807.61 793.1L2810.15 793.1L2810.15 802.2L2812.70 802.2L2812.70 778.6L2815.25 778.6L2815.25 778.6L2817.79 778.6L2817.79 789.1L2820.34 789.1L2820.34 791.0L2822.89 791.0L2822.89 767.6L2825.43 767.6L2825.43 763.0L2827.98 763.0L2827.98 754.6L2830.53 754.6L2830.53 726.7L2833.07 726.7L2833.07 726.7L2835.62 726.7L2835.62 726.7L2838.17 726.7L2838.17 712.3L2840.71 712.3L2840.71 668.5L2843.26 668.5L2843.26 633.7L2845.81 633.7L2845.81 589.7L2848.35 589.7L2848.35 589.7L2850.90 589.7L2850.90 570.9L2853.45 570.9L2853.45 575.7L2855.99 575.7L2855.99 554.4L2858.54 554.4L2858.54 554.4L2858.60 554.4L2858.60 842.96Z" fill="#00cfba"/><path d="M341.00 842.96L341.00 843.0L342.40 843.0L342.40 843.0L344.95 843.0L344.95 843.0L347.49 843.0L347.49 843.0L350.04 843.0L350.04 843.0L352.59 843.0L352.59 843.0L355.13 843.0L355.13 843.0L357.68 843.0L357.68 850.4L360.23 850.4L360.23 870.4L362.77 870.4L362.77 860.5L365.32 860.5L365.32 843.0L367.87 843.0L367.87 843.0L370.41 843.0L370.41 843.0L372.96 843.0L372.96 843.0L375.51 843.0L375.51 843.0L378.05 843.0L378.05 849.0L380.60 849.0L380.60 869.1L383.15 869.1L383.15 864.1L385.69 864.1L385.69 851.6L388.24 851.6L388.24 843.0L390.79 843.0L390.79 863.5L393.33 863.5L393.33 858.5L395.88 858.5L395.88 849.4L398.43 849.4L398.43 867.7L400.97 867.7L400.97 863.1L403.52 863.1L403.52 866.2L406.07 866.2L406.07 874.0L408.61 874.0L408.61 880.8L411.16 880.8L411.16 884.9L413.71 884.9L413.71 892.5L416.25 892.5L416.25 929.8L418.80 929.8L418.80 948.4L421.35 948.4L421.35 909.3L423.89 909.3L423.89 889.0L426.44 889.0L426.44 883.6L428.99 883.6L428.99 871.4L431.53 871.4L431.53 860.8L434.08 860.8L434.08 858.1L436.63 858.1L436.63 867.0L439.17 867.0L439.17 871.8L441.72 871.8L441.72 888.4L444.27 888.4L444.27 886.3L446.81 886.3L446.81 894.6L449.36 894.6L449.36 902.9L451.91 902.9L451.91 900.2L454.45 900.2L454.45 887.2L457.00 887.2L457.00 864.6L459.55 864.6L459.55 873.9L462.09 873.9L462.09 866.7L464.64 866.7L464.64 870.4L467.19 870.4L467.19 875.3L469.73 875.3L469.73 856.0L472.28 856.0L472.28 873.2L474.83 873.2L474.83 864.3L477.38 864.3L477.38 854.6L479.92 854.6L479.92 847.9L482.47 847.9L482.47 846.4L485.02 846.4L485.02 864.2L487.56 864.2L487.56 854.8L490.11 854.8L490.11 867.7L492.66 867.7L492.66 846.2L495.20 846.2L495.20 843.0L497.75 843.0L497.75 843.0L500.30 843.0L500.30 843.0L502.84 843.0L502.84 843.0L505.39 843.0L505.39 843.0L507.94 843.0L507.94 843.0L510.48 843.0L510.48 843.0L513.03 843.0L513.03 843.0L515.58 843.0L515.58 843.0L518.12 843.0L518.12 843.0L520.67 843.0L520.67 843.0L523.22 843.0L523.22 843.0L525.76 843.0L525.76 843.0L528.31 843.0L528.31 843.0L530.86 843.0L530.86 843.0L533.40 843.0L533.40 843.0L535.95 843.0L535.95 843.0L538.50 843.0L538.50 843.0L541.04 843.0L541.04 843.0L543.59 843.0L543.59 843.0L546.14 843.0L546.14 843.0L548.68 843.0L548.68 843.0L551.23 843.0L551.23 843.0L553.78 843.0L553.78 843.0L556.32 843.0L556.32 843.0L558.87 843.0L558.87 843.0L561.42 843.0L561.42 843.0L563.96 843.0L563.96 843.0L566.51 843.0L566.51 843.0L569.06 843.0L569.06 843.0L571.60 843.0L571.60 843.0L574.15 843.0L574.15 843.0L576.70 843.0L576.70 843.0L579.24 843.0L579.24 843.0L581.79 843.0L581.79 843.0L584.34 843.0L584.34 843.0L586.88 843.0L586.88 843.0L589.43 843.0L589.43 843.0L591.98 843.0L591.98 843.0L594.52 843.0L594.52 843.0L597.07 843.0L597.07 843.0L599.62 843.0L599.62 843.0L602.16 843.0L602.16 843.0L604.71 843.0L604.71 843.0L607.26 843.0L607.26 843.0L609.80 843.0L609.80 843.0L612.35 843.0L612.35 843.0L614.90 843.0L614.90 843.0L617.44 843.0L617.44 843.0L619.99 843.0L619.99 843.0L622.54 843.0L622.54 843.0L625.08 843.0L625.08 843.0L627.63 843.0L627.63 843.0L630.18 843.0L630.18 843.0L632.72 843.0L632.72 843.0L635.27 843.0L635.27 843.0L637.82 843.0L637.82 843.0L640.36 843.0L640.36 843.0L642.91 843.0L642.91 843.0L645.46 843.0L645.46 843.0L648.00 843.0L648.00 843.0L650.55 843.0L650.55 843.0L653.10 843.0L653.10 843.0L655.64 843.0L655.64 843.0L658.19 843.0L658.19 843.0L660.74 843.0L660.74 843.0L663.28 843.0L663.28 843.0L665.83 843.0L665.83 843.0L668.38 843.0L668.38 843.0L670.92 843.0L670.92 843.0L673.47 843.0L673.47 843.0L676.02 843.0L676.02 843.0L678.56 843.0L678.56 843.0L681.11 843.0L681.11 843.0L683.66 843.0L683.66 843.0L686.20 843.0L686.20 843.0L688.75 843.0L688.75 843.0L691.30 843.0L691.30 843.0L693.84 843.0L693.84 843.0L696.39 843.0L696.39 843.0L698.94 843.0L698.94 843.0L701.48 843.0L701.48 843.0L704.03 843.0L704.03 843.0L706.58 843.0L706.58 843.0L709.12 843.0L709.12 843.0L711.67 843.0L711.67 843.0L714.22 843.0L714.22 843.0L716.76 843.0L716.76 843.0L719.31 843.0L719.31 843.0L721.86 843.0L721.86 843.0L724.40 843.0L724.40 843.0L726.95 843.0L726.95 843.0L729.50 843.0L729.50 843.0L732.05 843.0L732.05 843.0L734.59 843.0L734.59 843.0L737.14 843.0L737.14 843.0L739.69 843.0L739.69 843.0L742.23 843.0L742.23 843.0L744.78 843.0L744.78 843.0L747.33 843.0L747.33 843.0L749.87 843.0L749.87 843.0L752.42 843.0L752.42 843.0L754.97 843.0L754.97 843.0L757.51 843.0L757.51 843.0L760.06 843.0L760.06 843.0L762.61 843.0L762.61 843.0L765.15 843.0L765.15 843.0L767.70 843.0L767.70 843.0L770.25 843.0L770.25 843.0L772.79 843.0L772.79 843.0L775.34 843.0L775.34 843.7L777.89 843.7L777.89 855.7L780.43 855.7L780.43 845.5L782.98 845.5L782.98 852.6L785.53 852.6L785.53 856.9L788.07 856.9L788.07 864.0L790.62 864.0L790.62 863.5L793.17 863.5L793.17 863.0L795.71 863.0L795.71 879.5L798.26 879.5L798.26 868.1L800.81 868.1L800.81 870.2L803.35 870.2L803.35 863.5L805.90 863.5L805.90 843.0L808.45 843.0L808.45 843.0L810.99 843.0L810.99 844.5L813.54 844.5L813.54 849.9L816.09 849.9L816.09 851.6L818.63 851.6L818.63 847.6L821.18 847.6L821.18 853.6L823.73 853.6L823.73 859.8L826.27 859.8L826.27 844.2L828.82 844.2L828.82 863.0L831.37 863.0L831.37 871.2L833.91 871.2L833.91 843.0L836.46 843.0L836.46 843.0L839.01 843.0L839.01 843.0L841.55 843.0L841.55 843.0L844.10 843.0L844.10 843.0L846.65 843.0L846.65 843.0L849.19 843.0L849.19 846.1L851.74 846.1L851.74 858.8L854.29 858.8L854.29 848.6L856.83 848.6L856.83 858.8L859.38 858.8L859.38 861.2L861.93 861.2L861.93 864.0L864.47 864.0L864.47 862.5L867.02 862.5L867.02 859.3L869.57 859.3L869.57 854.2L872.11 854.2L872.11 843.0L874.66 843.0L874.66 843.0L877.21 843.0L877.21 844.3L879.75 844.3L879.75 853.5L882.30 853.5L882.30 858.4L884.85 858.4L884.85 868.0L887.39 868.0L887.39 861.7L889.94 861.7L889.94 854.8L892.49 854.8L892.49 850.5L895.03 850.5L895.03 854.2L897.58 854.2L897.58 852.8L900.13 852.8L900.13 843.0L902.67 843.0L902.67 847.9L905.22 847.9L905.22 843.0L907.77 843.0L907.77 843.8L910.31 843.8L910.31 856.0L912.86 856.0L912.86 875.7L915.41 875.7L915.41 914.9L917.95 914.9L917.95 890.7L920.50 890.7L920.50 874.9L923.05 874.9L923.05 843.0L925.59 843.0L925.59 843.0L928.14 843.0L928.14 843.0L930.69 843.0L930.69 843.0L933.23 843.0L933.23 843.0L935.78 843.0L935.78 843.0L938.33 843.0L938.33 843.0L940.87 843.0L940.87 843.0L943.42 843.0L943.42 843.0L945.97 843.0L945.97 843.0L948.51 843.0L948.51 843.0L951.06 843.0L951.06 843.0L953.61 843.0L953.61 843.0L956.15 843.0L956.15 843.0L958.70 843.0L958.70 843.0L961.25 843.0L961.25 843.0L963.79 843.0L963.79 843.0L966.34 843.0L966.34 843.0L968.89 843.0L968.89 843.0L971.43 843.0L971.43 843.0L973.98 843.0L973.98 843.0L976.53 843.0L976.53 843.0L979.07 843.0L979.07 843.0L981.62 843.0L981.62 843.0L984.17 843.0L984.17 843.0L986.72 843.0L986.72 843.0L989.26 843.0L989.26 843.0L991.81 843.0L991.81 843.0L994.36 843.0L994.36 843.0L996.90 843.0L996.90 843.0L999.45 843.0L999.45 843.0L1002.00 843.0L1002.00 843.0L1004.54 843.0L1004.54 848.5L1007.09 848.5L1007.09 849.8L1009.64 849.8L1009.64 857.8L1012.18 857.8L1012.18 850.9L1014.73 850.9L1014.73 860.9L1017.28 860.9L1017.28 855.1L1019.82 855.1L1019.82 853.1L1022.37 853.1L1022.37 854.3L1024.92 854.3L1024.92 861.9L1027.46 861.9L1027.46 862.8L1030.01 862.8L1030.01 864.0L1032.56 864.0L1032.56 848.3L1035.10 848.3L1035.10 850.5L1037.65 850.5L1037.65 857.5L1040.20 857.5L1040.20 864.0L1042.74 864.0L1042.74 851.6L1045.29 851.6L1045.29 850.5L1047.84 850.5L1047.84 844.3L1050.38 844.3L1050.38 843.0L1052.93 843.0L1052.93 843.0L1055.48 843.0L1055.48 843.0L1058.02 843.0L1058.02 843.0L1060.57 843.0L1060.57 843.0L1063.12 843.0L1063.12 843.0L1065.66 843.0L1065.66 843.0L1068.21 843.0L1068.21 843.0L1070.76 843.0L1070.76 843.0L1073.30 843.0L1073.30 843.0L1075.85 843.0L1075.85 843.0L1078.40 843.0L1078.40 843.0L1080.94 843.0L1080.94 843.0L1083.49 843.0L1083.49 843.0L1086.04 843.0L1086.04 843.0L1088.58 843.0L1088.58 843.0L1091.13 843.0L1091.13 843.0L1093.68 843.0L1093.68 843.0L1096.22 843.0L1096.22 843.0L1098.77 843.0L1098.77 843.0L1101.32 843.0L1101.32 843.0L1103.86 843.0L1103.86 843.0L1106.41 843.0L1106.41 843.0L1108.96 843.0L1108.96 843.0L1111.50 843.0L1111.50 843.0L1114.05 843.0L1114.05 843.0L1116.60 843.0L1116.60 843.0L1119.14 843.0L1119.14 843.0L1121.69 843.0L1121.69 843.0L1124.24 843.0L1124.24 843.0L1126.78 843.0L1126.78 843.0L1129.33 843.0L1129.33 843.0L1131.88 843.0L1131.88 843.0L1134.42 843.0L1134.42 843.0L1136.97 843.0L1136.97 843.0L1139.52 843.0L1139.52 843.0L1142.06 843.0L1142.06 843.0L1144.61 843.0L1144.61 843.0L1147.16 843.0L1147.16 843.0L1149.70 843.0L1149.70 843.0L1152.25 843.0L1152.25 843.0L1154.80 843.0L1154.80 843.0L1157.34 843.0L1157.34 843.0L1159.89 843.0L1159.89 843.0L1162.44 843.0L1162.44 843.0L1164.98 843.0L1164.98 843.0L1167.53 843.0L1167.53 843.0L1170.08 843.0L1170.08 843.0L1172.62 843.0L1172.62 843.0L1175.17 843.0L1175.17 843.0L1177.72 843.0L1177.72 843.0L1180.26 843.0L1180.26 843.0L1182.81 843.0L1182.81 843.0L1185.36 843.0L1185.36 843.0L1187.90 843.0L1187.90 843.0L1190.45 843.0L1190.45 843.0L1193.00 843.0L1193.00 843.0L1195.54 843.0L1195.54 843.0L1198.09 843.0L1198.09 843.0L1200.64 843.0L1200.64 843.0L1203.18 843.0L1203.18 843.0L1205.73 843.0L1205.73 843.0L1208.28 843.0L1208.28 843.0L1210.82 843.0L1210.82 843.0L1213.37 843.0L1213.37 843.0L1215.92 843.0L1215.92 843.0L1218.46 843.0L1218.46 843.0L1221.01 843.0L1221.01 843.0L1223.56 843.0L1223.56 843.0L1226.10 843.0L1226.10 843.0L1228.65 843.0L1228.65 843.0L1231.20 843.0L1231.20 843.0L1233.75 843.0L1233.74 843.0L1236.29 843.0L1236.29 843.0L1238.84 843.0L1238.84 843.0L1241.39 843.0L1241.39 843.0L1243.93 843.0L1243.93 843.0L1246.48 843.0L1246.48 843.0L1249.03 843.0L1249.03 843.0L1251.57 843.0L1251.57 843.0L1254.12 843.0L1254.12 843.0L1256.67 843.0L1256.67 843.0L1259.21 843.0L1259.21 843.0L1261.76 843.0L1261.76 843.0L1264.31 843.0L1264.31 843.0L1266.85 843.0L1266.85 843.0L1269.40 843.0L1269.40 843.0L1271.95 843.0L1271.95 843.0L1274.49 843.0L1274.49 843.0L1277.04 843.0L1277.04 843.0L1279.59 843.0L1279.59 843.0L1282.13 843.0L1282.13 843.0L1284.68 843.0L1284.68 843.0L1287.23 843.0L1287.23 843.0L1289.77 843.0L1289.77 843.0L1292.32 843.0L1292.32 843.0L1294.87 843.0L1294.87 843.0L1297.41 843.0L1297.41 843.0L1299.96 843.0L1299.96 843.0L1302.51 843.0L1302.51 843.0L1305.05 843.0L1305.05 843.0L1307.60 843.0L1307.60 843.0L1310.15 843.0L1310.15 843.0L1312.69 843.0L1312.69 843.0L1315.24 843.0L1315.24 843.0L1317.79 843.0L1317.79 843.0L1320.33 843.0L1320.33 843.0L1322.88 843.0L1322.88 843.0L1325.43 843.0L1325.43 843.0L1327.97 843.0L1327.97 843.0L1330.52 843.0L1330.52 843.0L1333.07 843.0L1333.07 843.0L1335.61 843.0L1335.61 843.0L1338.16 843.0L1338.16 843.0L1340.71 843.0L1340.71 843.0L1343.25 843.0L1343.25 843.0L1345.80 843.0L1345.80 843.0L1348.35 843.0L1348.35 843.0L1350.89 843.0L1350.89 843.0L1353.44 843.0L1353.44 843.0L1355.99 843.0L1355.99 843.0L1358.53 843.0L1358.53 843.0L1361.08 843.0L1361.08 843.0L1363.63 843.0L1363.63 843.0L1366.17 843.0L1366.17 843.0L1368.72 843.0L1368.72 843.0L1371.27 843.0L1371.27 843.0L1373.81 843.0L1373.81 843.0L1376.36 843.0L1376.36 843.0L1378.91 843.0L1378.91 843.0L1381.45 843.0L1381.45 843.0L1384.00 843.0L1384.00 843.0L1386.55 843.0L1386.55 843.0L1389.09 843.0L1389.09 843.0L1391.64 843.0L1391.64 843.0L1394.19 843.0L1394.19 843.0L1396.73 843.0L1396.73 843.0L1399.28 843.0L1399.28 843.0L1401.83 843.0L1401.83 843.0L1404.37 843.0L1404.37 843.0L1406.92 843.0L1406.92 843.0L1409.47 843.0L1409.47 843.0L1412.01 843.0L1412.01 843.0L1414.56 843.0L1414.56 843.0L1417.11 843.0L1417.11 843.0L1419.65 843.0L1419.65 843.0L1422.20 843.0L1422.20 843.0L1424.75 843.0L1424.75 843.0L1427.29 843.0L1427.29 843.0L1429.84 843.0L1429.84 843.0L1432.39 843.0L1432.39 843.0L1434.93 843.0L1434.93 843.0L1437.48 843.0L1437.48 843.0L1440.03 843.0L1440.03 843.0L1442.57 843.0L1442.57 843.0L1445.12 843.0L1445.12 843.0L1447.67 843.0L1447.67 843.0L1450.21 843.0L1450.21 843.0L1452.76 843.0L1452.76 843.0L1455.31 843.0L1455.31 843.0L1457.85 843.0L1457.85 843.0L1460.40 843.0L1460.40 843.0L1462.95 843.0L1462.95 843.0L1465.49 843.0L1465.49 843.0L1468.04 843.0L1468.04 843.0L1470.59 843.0L1470.59 854.7L1473.13 854.7L1473.13 857.0L1475.68 857.0L1475.68 860.7L1478.23 860.7L1478.23 864.0L1480.77 864.0L1480.77 853.2L1483.32 853.2L1483.32 852.6L1485.87 852.6L1485.87 846.2L1488.42 846.2L1488.41 869.2L1490.96 869.2L1490.96 848.7L1493.51 848.7L1493.51 843.0L1496.06 843.0L1496.06 843.0L1498.60 843.0L1498.60 843.0L1501.15 843.0L1501.15 843.0L1503.70 843.0L1503.70 843.0L1506.24 843.0L1506.24 843.3L1508.79 843.3L1508.79 843.5L1511.34 843.5L1511.34 843.7L1513.88 843.7L1513.88 843.9L1516.43 843.9L1516.43 844.2L1518.98 844.2L1518.98 861.5L1521.52 861.5L1521.52 866.3L1524.07 866.3L1524.07 873.2L1526.62 873.2L1526.62 870.5L1529.16 870.5L1529.16 868.8L1531.71 868.8L1531.71 867.9L1534.26 867.9L1534.26 870.3L1536.80 870.3L1536.80 867.9L1539.35 867.9L1539.35 865.5L1541.90 865.5L1541.90 872.2L1544.44 872.2L1544.44 864.5L1546.99 864.5L1546.99 859.1L1549.54 859.1L1549.54 864.2L1552.08 864.2L1552.08 869.3L1554.63 869.3L1554.63 865.9L1557.18 865.9L1557.18 873.7L1559.72 873.7L1559.72 883.8L1562.27 883.8L1562.27 880.9L1564.82 880.9L1564.82 875.7L1567.36 875.7L1567.36 886.5L1569.91 886.5L1569.91 891.8L1572.46 891.8L1572.46 893.2L1575.00 893.2L1575.00 894.4L1577.55 894.4L1577.55 893.5L1580.10 893.5L1580.10 897.3L1582.64 897.3L1582.64 886.7L1585.19 886.7L1585.19 885.4L1587.74 885.4L1587.74 899.8L1590.28 899.8L1590.28 901.1L1592.83 901.1L1592.83 902.2L1595.38 902.2L1595.38 891.5L1597.92 891.5L1597.92 887.3L1600.47 887.3L1600.47 876.1L1603.02 876.1L1603.02 869.3L1605.56 869.3L1605.56 869.0L1608.11 869.0L1608.11 876.1L1610.66 876.1L1610.66 867.9L1613.20 867.9L1613.20 885.3L1615.75 885.3L1615.75 888.0L1618.30 888.0L1618.30 896.7L1620.84 896.7L1620.84 903.1L1623.39 903.1L1623.39 901.2L1625.94 901.2L1625.94 900.2L1628.48 900.2L1628.48 952.4L1631.03 952.4L1631.03 958.5L1633.58 958.5L1633.58 979.1L1636.12 979.1L1636.12 1011.7L1638.67 1011.7L1638.67 1006.7L1641.22 1006.7L1641.22 1039.8L1643.76 1039.8L1643.76 1072.9L1646.31 1072.9L1646.31 1118.3L1648.86 1118.3L1648.86 1209.6L1651.40 1209.6L1651.40 1254.1L1653.95 1254.1L1653.95 1307.5L1656.50 1307.5L1656.50 1308.8L1659.04 1308.8L1659.04 1318.3L1661.59 1318.3L1661.59 1350.9L1664.14 1350.9L1664.14 1368.4L1666.68 1368.4L1666.68 1396.5L1669.23 1396.5L1669.23 1411.0L1671.78 1411.0L1671.78 1424.4L1674.32 1424.4L1674.32 1435.7L1676.87 1435.7L1676.87 1432.9L1679.42 1432.9L1679.42 1427.8L1681.96 1427.8L1681.96 1434.3L1684.51 1434.3L1684.51 1443.5L1687.06 1443.5L1687.06 1455.2L1689.60 1455.2L1689.60 1430.2L1692.15 1430.2L1692.15 1409.7L1694.70 1409.7L1694.70 1394.5L1697.24 1394.5L1697.24 1401.9L1699.79 1401.9L1699.79 1411.7L1702.34 1411.7L1702.34 1360.8L1704.88 1360.8L1704.88 1335.7L1707.43 1335.7L1707.43 1273.5L1709.98 1273.5L1709.98 1245.0L1712.52 1245.0L1712.52 1222.6L1715.07 1222.6L1715.07 1214.8L1717.62 1214.8L1717.62 1209.6L1720.16 1209.6L1720.16 1189.5L1722.71 1189.5L1722.71 1134.0L1725.26 1134.0L1725.26 1006.5L1727.80 1006.5L1727.80 913.9L1730.35 913.9L1730.35 850.1L1732.90 850.1L1732.90 843.0L1735.44 843.0L1735.44 843.0L1737.99 843.0L1737.99 843.0L1740.54 843.0L1740.54 843.0L1743.09 843.0L1743.09 843.0L1745.63 843.0L1745.63 843.0L1748.18 843.0L1748.18 843.0L1750.73 843.0L1750.73 843.0L1753.27 843.0L1753.27 843.0L1755.82 843.0L1755.82 843.0L1758.37 843.0L1758.37 843.0L1760.91 843.0L1760.91 843.0L1763.46 843.0L1763.46 843.0L1766.01 843.0L1766.01 843.0L1768.55 843.0L1768.55 843.0L1771.10 843.0L1771.10 843.0L1773.65 843.0L1773.65 843.0L1776.19 843.0L1776.19 843.0L1778.74 843.0L1778.74 843.0L1781.29 843.0L1781.29 843.0L1783.83 843.0L1783.83 843.0L1786.38 843.0L1786.38 843.0L1788.93 843.0L1788.93 843.0L1791.47 843.0L1791.47 843.0L1794.02 843.0L1794.02 843.0L1796.57 843.0L1796.57 843.0L1799.11 843.0L1799.11 843.0L1801.66 843.0L1801.66 843.0L1804.21 843.0L1804.21 843.0L1806.75 843.0L1806.75 843.0L1809.30 843.0L1809.30 843.0L1811.85 843.0L1811.85 843.0L1814.39 843.0L1814.39 843.0L1816.94 843.0L1816.94 843.0L1819.49 843.0L1819.49 843.0L1822.03 843.0L1822.03 843.0L1824.58 843.0L1824.58 843.0L1827.13 843.0L1827.13 843.0L1829.67 843.0L1829.67 843.0L1832.22 843.0L1832.22 843.0L1834.77 843.0L1834.77 843.0L1837.31 843.0L1837.31 843.0L1839.86 843.0L1839.86 843.0L1842.41 843.0L1842.41 843.3L1844.95 843.3L1844.95 843.3L1847.50 843.3L1847.50 843.4L1850.05 843.4L1850.05 843.4L1852.59 843.4L1852.59 843.4L1855.14 843.4L1855.14 843.5L1857.69 843.5L1857.69 843.5L1860.23 843.5L1860.23 843.6L1862.78 843.6L1862.78 843.6L1865.33 843.6L1865.33 843.6L1867.87 843.6L1867.87 843.7L1870.42 843.7L1870.42 843.7L1872.97 843.7L1872.97 843.8L1875.51 843.8L1875.51 843.8L1878.06 843.8L1878.06 843.9L1880.61 843.9L1880.61 843.9L1883.15 843.9L1883.15 843.9L1885.70 843.9L1885.70 844.0L1888.25 844.0L1888.25 844.0L1890.79 844.0L1890.79 844.1L1893.34 844.1L1893.34 844.1L1895.89 844.1L1895.89 844.2L1898.43 844.2L1898.43 844.2L1900.98 844.2L1900.98 844.2L1903.53 844.2L1903.53 844.3L1906.07 844.3L1906.07 862.9L1908.62 862.9L1908.62 861.6L1911.17 861.6L1911.17 860.9L1913.71 860.9L1913.71 860.1L1916.26 860.1L1916.26 859.8L1918.81 859.8L1918.81 843.0L1921.35 843.0L1921.35 844.2L1923.90 844.2L1923.90 850.5L1926.45 850.5L1926.45 847.6L1928.99 847.6L1928.99 844.3L1931.54 844.3L1931.54 843.0L1934.09 843.0L1934.09 843.0L1936.63 843.0L1936.63 843.0L1939.18 843.0L1939.18 843.0L1941.73 843.0L1941.73 843.0L1944.27 843.0L1944.27 843.0L1946.82 843.0L1946.82 859.8L1949.37 859.8L1949.37 858.9L1951.91 858.9L1951.91 885.7L1954.46 885.7L1954.46 855.7L1957.01 855.7L1957.01 847.5L1959.55 847.5L1959.55 843.0L1962.10 843.0L1962.10 843.0L1964.65 843.0L1964.65 843.0L1967.19 843.0L1967.19 843.0L1969.74 843.0L1969.74 843.0L1972.29 843.0L1972.29 843.0L1974.83 843.0L1974.83 843.0L1977.38 843.0L1977.38 843.0L1979.93 843.0L1979.93 843.0L1982.47 843.0L1982.47 843.0L1985.02 843.0L1985.02 843.0L1987.57 843.0L1987.57 843.0L1990.11 843.0L1990.11 843.0L1992.66 843.0L1992.66 843.0L1995.21 843.0L1995.21 843.0L1997.75 843.0L1997.76 843.0L2000.30 843.0L2000.30 843.0L2002.85 843.0L2002.85 843.0L2005.40 843.0L2005.40 843.0L2007.94 843.0L2007.94 843.0L2010.49 843.0L2010.49 843.0L2013.04 843.0L2013.04 843.0L2015.58 843.0L2015.58 843.0L2018.13 843.0L2018.13 845.4L2020.68 845.4L2020.68 851.8L2023.22 851.8L2023.22 851.8L2025.77 851.8L2025.77 843.0L2028.32 843.0L2028.32 843.0L2030.86 843.0L2030.86 843.0L2033.41 843.0L2033.41 857.0L2035.96 857.0L2035.96 863.0L2038.50 863.0L2038.50 853.0L2041.05 853.0L2041.05 876.1L2043.60 876.1L2043.60 902.6L2046.14 902.6L2046.14 908.3L2048.69 908.3L2048.69 896.5L2051.24 896.5L2051.24 892.7L2053.78 892.7L2053.78 902.6L2056.33 902.6L2056.33 908.9L2058.88 908.9L2058.88 907.8L2061.42 907.8L2061.42 949.3L2063.97 949.3L2063.97 977.3L2066.52 977.3L2066.52 981.6L2069.06 981.6L2069.06 991.5L2071.61 991.5L2071.61 1013.3L2074.16 1013.3L2074.16 1006.5L2076.70 1006.5L2076.70 985.3L2079.25 985.3L2079.25 980.4L2081.80 980.4L2081.80 969.2L2084.34 969.2L2084.34 980.4L2086.89 980.4L2086.89 968.9L2089.44 968.9L2089.44 968.0L2091.98 968.0L2091.98 1006.5L2094.53 1006.5L2094.53 982.9L2097.08 982.9L2097.08 975.2L2099.62 975.2L2099.62 969.5L2102.17 969.5L2102.17 977.9L2104.72 977.9L2104.72 976.8L2107.26 976.8L2107.26 976.0L2109.81 976.0L2109.81 966.7L2112.36 966.7L2112.36 960.8L2114.90 960.8L2114.90 969.2L2117.45 969.2L2117.45 945.0L2120.00 945.0L2120.00 919.5L2122.54 919.5L2122.54 909.6L2125.09 909.6L2125.09 887.2L2127.64 887.2L2127.64 854.9L2130.18 854.9L2130.18 843.0L2132.73 843.0L2132.73 843.0L2135.28 843.0L2135.28 843.0L2137.82 843.0L2137.82 843.0L2140.37 843.0L2140.37 843.0L2142.92 843.0L2142.92 843.0L2145.46 843.0L2145.46 843.0L2148.01 843.0L2148.01 843.0L2150.56 843.0L2150.56 843.0L2153.10 843.0L2153.10 843.0L2155.65 843.0L2155.65 843.0L2158.20 843.0L2158.20 843.0L2160.74 843.0L2160.74 843.0L2163.29 843.0L2163.29 843.0L2165.84 843.0L2165.84 843.0L2168.38 843.0L2168.38 843.0L2170.93 843.0L2170.93 843.0L2173.48 843.0L2173.48 843.0L2176.02 843.0L2176.02 843.0L2178.57 843.0L2178.57 843.0L2181.12 843.0L2181.12 843.0L2183.66 843.0L2183.66 843.0L2186.21 843.0L2186.21 843.0L2188.76 843.0L2188.76 843.0L2191.30 843.0L2191.30 843.0L2193.85 843.0L2193.85 843.0L2196.40 843.0L2196.40 843.0L2198.94 843.0L2198.94 843.0L2201.49 843.0L2201.49 843.0L2204.04 843.0L2204.04 843.0L2206.58 843.0L2206.58 843.0L2209.13 843.0L2209.13 843.0L2211.68 843.0L2211.68 843.0L2214.22 843.0L2214.22 843.0L2216.77 843.0L2216.77 843.0L2219.32 843.0L2219.32 843.0L2221.86 843.0L2221.86 843.0L2224.41 843.0L2224.41 843.0L2226.96 843.0L2226.96 843.0L2229.50 843.0L2229.50 843.0L2232.05 843.0L2232.05 843.0L2234.60 843.0L2234.60 843.0L2237.14 843.0L2237.14 843.0L2239.69 843.0L2239.69 843.0L2242.24 843.0L2242.24 843.0L2244.78 843.0L2244.78 843.0L2247.33 843.0L2247.33 843.0L2249.88 843.0L2249.88 843.0L2252.42 843.0L2252.42 843.0L2254.97 843.0L2254.97 843.0L2257.52 843.0L2257.52 843.0L2260.07 843.0L2260.07 843.0L2262.61 843.0L2262.61 843.0L2265.16 843.0L2265.16 843.0L2267.71 843.0L2267.71 843.0L2270.25 843.0L2270.25 843.0L2272.80 843.0L2272.80 843.0L2275.35 843.0L2275.35 843.0L2277.89 843.0L2277.89 843.0L2280.44 843.0L2280.44 843.0L2282.99 843.0L2282.99 843.0L2285.53 843.0L2285.53 843.0L2288.08 843.0L2288.08 843.0L2290.63 843.0L2290.63 843.0L2293.17 843.0L2293.17 843.0L2295.72 843.0L2295.72 843.0L2298.27 843.0L2298.27 843.0L2300.81 843.0L2300.81 843.0L2303.36 843.0L2303.36 843.0L2305.91 843.0L2305.91 843.0L2308.45 843.0L2308.45 843.0L2311.00 843.0L2311.00 843.0L2313.55 843.0L2313.55 843.0L2316.09 843.0L2316.09 843.0L2318.64 843.0L2318.64 843.0L2321.19 843.0L2321.19 843.0L2323.73 843.0L2323.73 843.0L2326.28 843.0L2326.28 843.0L2328.83 843.0L2328.83 843.0L2331.37 843.0L2331.37 843.0L2333.92 843.0L2333.92 843.0L2336.47 843.0L2336.47 843.0L2339.01 843.0L2339.01 843.0L2341.56 843.0L2341.56 843.0L2344.11 843.0L2344.11 843.0L2346.65 843.0L2346.65 843.0L2349.20 843.0L2349.20 843.0L2351.75 843.0L2351.75 843.0L2354.29 843.0L2354.29 843.0L2356.84 843.0L2356.84 843.0L2359.39 843.0L2359.39 843.0L2361.93 843.0L2361.93 843.0L2364.48 843.0L2364.48 843.0L2367.03 843.0L2367.03 843.0L2369.57 843.0L2369.57 843.0L2372.12 843.0L2372.12 843.0L2374.67 843.0L2374.67 843.0L2377.21 843.0L2377.21 843.0L2379.76 843.0L2379.76 843.0L2382.31 843.0L2382.31 843.0L2384.85 843.0L2384.85 843.0L2387.40 843.0L2387.40 843.0L2389.95 843.0L2389.95 843.0L2392.49 843.0L2392.49 860.6L2395.04 860.6L2395.04 870.9L2397.59 870.9L2397.59 879.8L2400.13 879.8L2400.13 915.3L2402.68 915.3L2402.68 901.5L2405.23 901.5L2405.23 917.4L2407.77 917.4L2407.77 916.6L2410.32 916.6L2410.32 921.1L2412.87 921.1L2412.87 902.0L2415.41 902.0L2415.41 893.6L2417.96 893.6L2417.96 904.6L2420.51 904.6L2420.51 921.1L2423.05 921.1L2423.05 914.8L2425.60 914.8L2425.60 921.9L2428.15 921.9L2428.15 921.3L2430.69 921.3L2430.69 932.3L2433.24 932.3L2433.24 929.8L2435.79 929.8L2435.79 917.1L2438.33 917.1L2438.33 926.5L2440.88 926.5L2440.88 924.4L2443.43 924.4L2443.43 916.8L2445.97 916.8L2445.97 912.0L2448.52 912.0L2448.52 897.6L2451.07 897.6L2451.07 900.4L2453.61 900.4L2453.61 897.4L2456.16 897.4L2456.16 891.0L2458.71 891.0L2458.71 898.2L2461.25 898.2L2461.25 902.9L2463.80 902.9L2463.80 923.6L2466.35 923.6L2466.35 905.4L2468.89 905.4L2468.89 880.5L2471.44 880.5L2471.44 879.7L2473.99 879.7L2473.99 862.7L2476.53 862.7L2476.53 843.0L2479.08 843.0L2479.08 843.0L2481.63 843.0L2481.63 843.0L2484.17 843.0L2484.17 843.0L2486.72 843.0L2486.72 843.0L2489.27 843.0L2489.27 843.0L2491.81 843.0L2491.81 843.0L2494.36 843.0L2494.36 843.0L2496.91 843.0L2496.91 843.0L2499.45 843.0L2499.45 843.0L2502.00 843.0L2502.00 843.0L2504.55 843.0L2504.55 843.0L2507.09 843.0L2507.10 843.0L2509.64 843.0L2509.64 843.0L2512.19 843.0L2512.19 843.0L2514.74 843.0L2514.74 843.0L2517.28 843.0L2517.28 843.0L2519.83 843.0L2519.83 843.0L2522.38 843.0L2522.38 843.0L2524.92 843.0L2524.92 843.0L2527.47 843.0L2527.47 843.0L2530.02 843.0L2530.02 843.0L2532.56 843.0L2532.56 843.0L2535.11 843.0L2535.11 843.0L2537.66 843.0L2537.66 843.0L2540.20 843.0L2540.20 843.0L2542.75 843.0L2542.75 843.0L2545.30 843.0L2545.30 843.0L2547.84 843.0L2547.84 843.0L2550.39 843.0L2550.39 843.0L2552.94 843.0L2552.94 843.0L2555.48 843.0L2555.48 843.0L2558.03 843.0L2558.03 843.0L2560.58 843.0L2560.58 843.0L2563.12 843.0L2563.12 843.0L2565.67 843.0L2565.67 845.7L2568.22 845.7L2568.22 856.8L2570.76 856.8L2570.76 862.3L2573.31 862.3L2573.31 862.3L2575.86 862.3L2575.86 855.5L2578.40 855.5L2578.40 850.9L2580.95 850.9L2580.95 843.0L2583.50 843.0L2583.50 843.0L2586.04 843.0L2586.04 843.4L2588.59 843.4L2588.59 843.7L2591.14 843.7L2591.14 844.1L2593.68 844.1L2593.68 844.5L2596.23 844.5L2596.23 858.1L2598.78 858.1L2598.78 851.0L2601.32 851.0L2601.32 843.0L2603.87 843.0L2603.87 843.0L2606.42 843.0L2606.42 843.0L2608.96 843.0L2608.96 843.0L2611.51 843.0L2611.51 843.0L2614.06 843.0L2614.06 843.0L2616.60 843.0L2616.60 843.0L2619.15 843.0L2619.15 843.0L2621.70 843.0L2621.70 843.0L2624.24 843.0L2624.24 843.0L2626.79 843.0L2626.79 843.0L2629.34 843.0L2629.34 843.0L2631.88 843.0L2631.88 843.0L2634.43 843.0L2634.43 843.0L2636.98 843.0L2636.98 843.0L2639.52 843.0L2639.52 843.0L2642.07 843.0L2642.07 843.0L2644.62 843.0L2644.62 843.0L2647.16 843.0L2647.16 843.0L2649.71 843.0L2649.71 843.0L2652.26 843.0L2652.26 843.0L2654.80 843.0L2654.80 843.0L2657.35 843.0L2657.35 843.0L2659.90 843.0L2659.90 843.0L2662.44 843.0L2662.44 843.0L2664.99 843.0L2664.99 843.0L2667.54 843.0L2667.54 843.0L2670.08 843.0L2670.08 843.0L2672.63 843.0L2672.63 843.0L2675.18 843.0L2675.18 843.0L2677.72 843.0L2677.72 843.0L2680.27 843.0L2680.27 843.0L2682.82 843.0L2682.82 843.0L2685.36 843.0L2685.36 843.0L2687.91 843.0L2687.91 843.0L2690.46 843.0L2690.46 843.0L2693.00 843.0L2693.00 843.0L2695.55 843.0L2695.55 843.0L2698.10 843.0L2698.10 843.0L2700.64 843.0L2700.64 843.0L2703.19 843.0L2703.19 843.0L2705.74 843.0L2705.74 843.0L2708.28 843.0L2708.28 843.0L2710.83 843.0L2710.83 843.0L2713.38 843.0L2713.38 843.0L2715.92 843.0L2715.92 843.0L2718.47 843.0L2718.47 843.0L2721.02 843.0L2721.02 843.0L2723.56 843.0L2723.56 843.0L2726.11 843.0L2726.11 843.0L2728.66 843.0L2728.66 843.0L2731.20 843.0L2731.20 843.0L2733.75 843.0L2733.75 843.0L2736.30 843.0L2736.30 843.0L2738.84 843.0L2738.84 843.0L2741.39 843.0L2741.39 843.0L2743.94 843.0L2743.94 843.0L2746.48 843.0L2746.48 843.0L2749.03 843.0L2749.03 843.0L2751.58 843.0L2751.58 843.0L2754.12 843.0L2754.12 843.0L2756.67 843.0L2756.67 843.0L2759.22 843.0L2759.22 843.0L2761.76 843.0L2761.76 843.0L2764.31 843.0L2764.31 843.0L2766.86 843.0L2766.86 843.0L2769.41 843.0L2769.41 843.0L2771.95 843.0L2771.95 843.0L2774.50 843.0L2774.50 843.0L2777.05 843.0L2777.05 843.0L2779.59 843.0L2779.59 843.0L2782.14 843.0L2782.14 843.0L2784.69 843.0L2784.69 843.0L2787.23 843.0L2787.23 843.0L2789.78 843.0L2789.78 843.0L2792.33 843.0L2792.33 843.0L2794.87 843.0L2794.87 843.0L2797.42 843.0L2797.42 843.0L2799.97 843.0L2799.97 843.0L2802.51 843.0L2802.51 843.0L2805.06 843.0L2805.06 843.0L2807.61 843.0L2807.61 843.0L2810.15 843.0L2810.15 843.0L2812.70 843.0L2812.70 843.0L2815.25 843.0L2815.25 843.0L2817.79 843.0L2817.79 843.0L2820.34 843.0L2820.34 843.0L2822.89 843.0L2822.89 843.0L2825.43 843.0L2825.43 843.0L2827.98 843.0L2827.98 843.0L2830.53 843.0L2830.53 843.0L2833.07 843.0L2833.07 843.0L2835.62 843.0L2835.62 843.0L2838.17 843.0L2838.17 843.0L2840.71 843.0L2840.71 843.0L2843.26 843.0L2843.26 843.0L2845.81 843.0L2845.81 843.0L2848.35 843.0L2848.35 843.0L2850.90 843.0L2850.90 843.0L2853.45 843.0L2853.45 843.0L2855.99 843.0L2855.99 843.0L2858.54 843.0L2858.54 843.0L2858.60 843.0L2858.60 842.96Z" fill="#ff4b63"/><rect x="341" y="841.96" width="2517.5" height="2" fill="#6b6b6b"/><defs><filter id="wb" x="-5%" y="-5%" width="110%" height="110%"><feGaussianBlur stdDeviation="1.6"/></filter></defs><g filter="url(#wb)" opacity="0.075"><g transform="translate(445,503) scale(0.8403)"><circle cx="630" cy="475" r="79.5" fill="none" stroke="#000" stroke-width="35"/><circle cx="935" cy="475" r="79.5" fill="none" stroke="#000" stroke-width="35"/><circle cx="1683" cy="475" r="79.5" fill="none" stroke="#000" stroke-width="35"/><circle cx="1897" cy="475" r="79.5" fill="none" stroke="#000" stroke-width="35"/><path d="M692 392 L728 383 L728 560 L692 560 Z" fill="#000"/><path d="M710 550 A78 78 0 0 1 563 590" fill="none" stroke="#000" stroke-width="35"/><path d="M769 308 L806 300 L806 568 L769 568 Z" fill="#000"/><path d="M998 392 L1035 383 L1035 568 L998 568 Z" fill="#000"/><path transform="translate(0,0)" d="M1188 428 Q1170 395 1137 395 Q1090 395 1090 437 Q1090 462 1137 475 Q1192 490 1192 520 Q1192 555 1137 555 Q1098 555 1080 522" fill="none" stroke="#000" stroke-width="35"/><path transform="translate(153,0)" d="M1188 428 Q1170 395 1137 395 Q1090 395 1090 437 Q1090 462 1137 475 Q1192 490 1192 520 Q1192 555 1137 555 Q1098 555 1080 522" fill="none" stroke="#000" stroke-width="35"/><path d="M1393 392 L1430 383 L1430 568 L1393 568 Z" fill="#000"/><path d="M1411.5 568 V470 Q1411.5 395 1476 395 Q1539.5 395 1539.5 470 V568" fill="none" stroke="#000" stroke-width="35"/><path d="M1962 320 L1998 312 L1998 568 L1962 568 Z" fill="#000"/><path d="M2204.5 475 A79.5 79.5 0 1 0 2191 521" fill="none" stroke="#000" stroke-width="35"/><rect x="2050" y="460" width="168" height="32" fill="#000"/></g></g><rect x="341" y="1463.8" width="2517.5" height="2" fill="#e0e0e0"/><rect x="426.8" y="1465.8" width="2" height="25" fill="#e8e8e8"/><rect x="582.1" y="1465.8" width="2" height="25" fill="#e8e8e8"/><rect x="740.1" y="1465.8" width="2" height="25" fill="#e8e8e8"/><rect x="890.3" y="1465.8" width="2" height="25" fill="#e8e8e8"/><rect x="1045.6" y="1465.8" width="2" height="25" fill="#e8e8e8"/><rect x="1200.9" y="1465.8" width="2" height="25" fill="#e8e8e8"/><rect x="1356.5" y="1465.8" width="2" height="25" fill="#e8e8e8"/><rect x="1511.3" y="1465.8" width="2" height="25" fill="#e8e8e8"/><rect x="1669.7" y="1465.8" width="2" height="25" fill="#e8e8e8"/><rect x="1822.3" y="1465.8" width="2" height="25" fill="#e8e8e8"/><rect x="1977.6" y="1465.8" width="2" height="25" fill="#e8e8e8"/><rect x="2132.9" y="1465.8" width="2" height="25" fill="#e8e8e8"/><rect x="2288.2" y="1465.8" width="2" height="25" fill="#e8e8e8"/><rect x="2443.6" y="1465.8" width="2" height="25" fill="#e8e8e8"/><rect x="2601.2" y="1465.8" width="2" height="25" fill="#e8e8e8"/><rect x="2751.4" y="1465.8" width="2" height="25" fill="#e8e8e8"/><rect x="2863.8" y="365" width="2" height="1099" fill="#000"/><path d="M340.0 1216.2 L342.3 1204.5 L343.9 1203.8 L346.2 1213.9 L348.5 1207.6 L351.6 1206.9 L355.5 1212.3 L357.9 1213.9 L359.4 1209.2 L363.3 1213.1 L364.1 1231.7 L368.0 1223.2 L371.1 1221.6 L371.8 1185.1 L374.2 1178.9 L377.3 1176.6 L379.6 1168.0 L381.9 1206.1 L385.0 1204.5 L387.4 1216.2 L390.5 1215.4 L392.0 1206.1 L394.3 1220.8 L397.5 1217.0 L400.6 1230.2 L402.9 1238.7 L405.2 1220.1 L408.3 1223.2 L412.2 1233.3 L416.1 1223.9 L419.2 1227.0 L421.5 1217.7 L424.6 1216.2 L430.1 1228.6 L434.7 1203.0 L440.9 1209.2 L445.6 1219.3 L448.7 1220.1 L451.0 1226.3 L454.1 1227.8 L458.0 1220.8 L462.7 1227.8 L468.1 1217.0 L473.5 1225.5 L476.6 1227.8 L481.3 1224.7 L484.4 1217.0 L487.5 1222.4 L491.4 1195.2 L493.7 1205.3 L499.2 1194.4 L504.6 1199.9 L507.7 1200.7 L510.8 1207.6 L513.1 1206.1 L514.7 1189.0 L517.8 1186.7 L522.5 1198.3 L525.6 1230.9 L527.9 1295.4 L530.2 1256.6 L533.3 1272.1 L536.4 1284.5 L542.6 1271.3 L545.7 1276.7 L552.7 1275.2 L557.4 1296.9 L562.8 1276.0 L571.4 1280.6 L575.2 1286.8 L579.1 1280.6 L580.7 1265.1 L583.8 1270.5 L588.4 1272.1 L590.8 1265.9 L594.7 1269.8 L598.5 1272.9 L601.6 1262.8 L605.5 1266.6 L611.0 1265.9 L613.3 1252.7 L617.2 1251.1 L621.1 1278.3 L624.2 1272.9 L628.8 1281.4 L631.1 1270.5 L636.6 1272.1 L641.2 1272.1 L646.7 1271.3 L651.3 1279.8 L654.4 1276.0 L659.1 1279.8 L665.3 1276.0 L669.2 1272.1 L675.4 1269.0 L681.6 1264.3 L685.5 1254.2 L688.6 1238.7 L692.5 1207.6 L694.8 1190.6 L697.1 1194.4 L701.0 1187.5 L704.9 1196.0 L708.8 1189.8 L710.3 1164.2 L715.8 1161.1 L719.7 1164.9 L723.5 1154.8 L728.2 1157.2 L732.9 1146.3 L735.2 1161.1 L740.0 1150.2 L744.7 1150.3 L749.3 1154.2 L754.0 1162.8 L756.3 1153.4 L759.4 1158.9 L761.0 1177.5 L764.1 1181.4 L767.2 1176.7 L772.6 1178.3 L774.9 1169.8 L776.5 1138.7 L779.6 1148.8 L781.9 1134.0 L786.6 1137.1 L789.7 1130.2 L793.6 1138.7 L798.2 1144.9 L799.8 1155.8 L803.7 1149.6 L808.3 1151.9 L810.7 1156.6 L813.0 1146.5 L816.1 1150.3 L817.6 1169.0 L823.9 1166.6 L828.5 1171.3 L830.8 1180.6 L834.7 1207.0 L839.4 1196.9 L843.3 1138.7 L845.6 1130.2 L848.7 1137.9 L851.8 1127.0 L853.4 1094.4 L857.2 1100.7 L858.0 1084.3 L862.7 1089.8 L864.2 1083.6 L865.8 1096.0 L868.9 1081.2 L871.2 1094.4 L875.1 1085.1 L878.2 1098.3 L882.1 1096.8 L883.6 1081.2 L886.7 1086.7 L889.8 1078.9 L893.7 1082.0 L896.8 1090.6 L900.7 1082.8 L904.6 1085.9 L909.3 1088.2 L912.4 1081.2 L915.5 1058.0 L920.1 1063.4 L924.8 1054.8 L928.7 1057.2 L931.8 1068.8 L934.9 1055.6 L937.2 1073.5 L941.9 1096.8 L945.0 1087.5 L950.4 1092.9 L954.3 1081.2 L956.6 1067.3 L962.0 1070.4 L965.2 1068.8 L967.5 1085.9 L972.9 1072.7 L975.2 1075.8 L977.6 1066.5 L983.8 1081.2 L986.1 1090.6 L990.8 1092.1 L994.7 1101.4 L998.5 1103.0 L1004.0 1096.8 L1007.9 1092.9 L1011.7 1103.0 L1016.4 1097.5 L1019.5 1104.5 L1024.2 1096.0 L1027.3 1109.2 L1031.9 1103.0 L1035.0 1101.4 L1036.6 1083.6 L1042.0 1089.8 L1046.7 1103.0 L1049.0 1096.8 L1053.7 1097.5 L1056.8 1117.0 L1059.1 1096.0 L1063.0 1109.2 L1066.9 1106.1 L1069.2 1116.2 L1075.4 1114.6 L1079.3 1127.0 L1083.2 1117.0 L1084.7 1108.4 L1089.4 1110.0 L1092.5 1102.2 L1097.1 1060.3 L1101.8 1053.3 L1112.7 1057.2 L1115.8 1051.7 L1117.3 1060.3 L1120.4 1055.6 L1126.6 1054.1 L1128.2 1047.1 L1135.2 1061.8 L1140.0 1056.4 L1143.1 1058.9 L1147.0 1053.4 L1150.9 1052.7 L1154.0 1043.4 L1156.3 1058.1 L1161.7 1058.1 L1165.6 1062.8 L1171.1 1063.5 L1175.7 1062.0 L1179.6 1059.7 L1181.9 1072.1 L1186.6 1069.8 L1191.2 1069.0 L1195.9 1069.0 L1199.8 1070.5 L1202.1 1064.3 L1205.2 1072.1 L1211.4 1073.6 L1216.1 1072.1 L1220.0 1063.5 L1225.4 1067.4 L1230.1 1068.2 L1234.7 1069.0 L1239.4 1073.6 L1241.7 1079.1 L1243.3 1103.9 L1245.6 1113.2 L1250.2 1110.9 L1255.7 1114.0 L1258.0 1107.0 L1262.7 1112.5 L1267.3 1114.0 L1271.2 1112.5 L1272.8 1089.2 L1275.9 1093.8 L1278.2 1114.8 L1281.3 1117.1 L1285.2 1114.0 L1289.1 1117.1 L1293.7 1117.9 L1295.3 1110.1 L1299.2 1114.8 L1303.0 1115.6 L1306.1 1126.4 L1310.8 1110.9 L1314.7 1104.7 L1320.1 1106.2 L1323.2 1103.9 L1326.3 1096.1 L1330.2 1098.5 L1332.5 1106.2 L1337.2 1106.2 L1340.3 1110.9 L1345.0 1110.9 L1348.1 1108.6 L1350.4 1098.5 L1355.1 1100.0 L1357.4 1086.1 L1362.8 1094.6 L1365.2 1089.9 L1367.5 1094.6 L1371.4 1086.1 L1376.0 1088.4 L1380.7 1094.6 L1384.6 1103.1 L1391.6 1099.3 L1394.7 1079.1 L1398.5 1079.8 L1401.6 1083.0 L1404.8 1076.7 L1407.1 1065.1 L1411.0 1062.0 L1413.3 1024.7 L1418.0 1009.2 L1423.4 1017.0 L1428.8 1009.2 L1432.7 1009.2 L1436.6 999.9 L1441.2 1008.4 L1445.9 1003.0 L1450.6 1002.2 L1454.4 996.8 L1458.3 980.5 L1465.3 983.6 L1469.2 1000.7 L1472.3 974.3 L1475.4 992.1 L1479.3 988.2 L1483.2 979.7 L1487.0 995.2 L1490.9 979.7 L1497.1 975.0 L1502.6 982.8 L1506.5 976.6 L1510.3 978.1 L1515.8 959.5 L1520.0 953.9 L1522.2 918.6 L1525.1 923.4 L1527.5 927.3 L1530.0 918.6 L1533.3 920.5 L1536.7 922.0 L1537.7 944.7 L1541.5 942.8 L1542.5 928.3 L1545.9 927.3 L1548.3 938.9 L1550.2 937.0 L1553.1 943.2 L1555.6 933.1 L1558.0 930.2 L1559.9 936.0 L1561.8 925.4 L1565.7 919.6 L1569.6 923.4 L1571.5 929.2 L1573.4 922.5 L1576.3 934.1 L1579.2 924.4 L1584.1 937.9 L1589.9 937.0 L1591.8 919.6 L1593.7 911.8 L1596.6 931.2 L1599.5 917.6 L1604.3 921.5 L1608.2 921.5 L1609.7 895.4 L1612.1 904.1 L1615.0 898.3 L1617.9 901.2 L1620.8 929.2 L1624.6 940.8 L1629.5 926.3 L1633.3 931.2 L1635.3 944.7 L1639.1 939.9 L1643.0 940.8 L1644.9 961.1 L1649.8 954.3 L1652.7 956.3 L1655.6 937.9 L1658.5 936.0 L1661.4 937.9 L1663.3 925.4 L1668.1 933.1 L1672.9 926.3 L1678.7 933.1 L1682.6 931.2 L1687.4 915.7 L1690.3 894.4 L1694.2 887.7 L1698.1 874.2 L1701.0 875.1 L1702.9 860.6 L1708.7 857.7 L1710.6 862.6 L1713.5 857.7 L1718.4 856.8 L1726.1 869.3 L1731.9 861.6 L1734.8 850.0 L1735.0 849.5 L1735.7 827.7 L1737.7 790.5 L1740.8 798.8 L1743.9 790.5 L1747.0 794.6 L1749.1 786.3 L1751.2 758.4 L1753.3 784.3 L1755.3 771.8 L1759.5 763.6 L1762.6 758.4 L1765.7 754.2 L1767.7 740.8 L1770.8 738.7 L1775.0 734.6 L1778.1 744.9 L1782.2 776.0 L1784.3 757.3 L1786.4 765.6 L1788.4 757.3 L1790.5 796.7 L1791.6 761.5 L1793.6 767.7 L1797.8 786.3 L1800.9 782.2 L1805.0 749.1 L1809.2 749.1 L1813.3 744.9 L1816.4 750.1 L1820.5 742.9 L1823.6 753.2 L1825.7 773.9 L1828.8 769.8 L1830.9 757.3 L1834.0 759.4 L1838.1 749.1 L1841.2 740.8 L1843.3 754.2 L1846.4 747.0 L1849.5 752.2 L1852.6 780.1 L1855.7 776.0 L1857.8 771.8 L1860.9 786.3 L1864.0 798.8 L1867.1 784.3 L1871.3 779.1 L1874.4 777.0 L1876.4 765.6 L1879.5 768.7 L1882.7 782.2 L1885.8 780.1 L1889.9 785.3 L1893.0 788.4 L1895.1 783.2 L1900.2 817.4 L1904.4 792.5 L1907.5 783.2 L1910.6 782.2 L1914.7 791.5 L1917.8 799.8 L1919.9 788.4 L1923.0 802.9 L1927.2 800.8 L1931.3 790.5 L1933.4 770.8 L1936.5 771.8 L1940.0 763.6 L1942.1 765.6 L1946.2 770.8 L1948.3 742.9 L1952.4 752.2 L1956.6 761.5 L1960.7 754.2 L1965.9 753.2 L1970.0 762.5 L1974.2 758.4 L1977.3 764.6 L1981.4 761.5 L1984.5 754.2 L1988.7 744.9 L1992.8 754.2 L1996.9 754.2 L2001.1 753.2 L2003.1 764.6 L2006.3 759.4 L2011.4 771.8 L2016.6 768.7 L2020.7 770.8 L2023.9 778.1 L2029.0 780.1 L2033.2 785.3 L2037.3 805.0 L2040.4 795.7 L2043.5 798.8 L2046.6 805.0 L2049.7 796.7 L2053.9 789.4 L2058.0 793.6 L2062.2 824.6 L2066.3 827.7 L2068.4 818.4 L2070.4 832.9 L2074.6 818.4 L2080.8 823.6 L2084.9 812.2 L2088.0 798.8 L2091.1 778.1 L2095.3 776.0 L2099.4 782.2 L2102.5 765.6 L2105.6 760.5 L2109.8 765.6 L2113.9 774.9 L2118.1 763.6 L2122.2 759.4 L2125.3 760.5 L2130.5 773.9 L2134.6 780.1 L2136.7 798.8 L2140.8 805.0 L2143.9 845.3 L2147.0 838.1 L2150.1 839.1 L2152.2 794.6 L2156.4 800.8 L2159.5 815.3 L2164.6 802.9 L2169.8 822.6 L2174.0 813.3 L2178.1 811.2 L2182.2 809.1 L2185.3 799.8 L2189.5 782.2 L2195.7 780.1 L2200.9 812.2 L2205.0 813.3 L2209.2 812.2 L2213.3 823.6 L2216.4 812.2 L2220.5 819.5 L2224.7 845.3 L2229.9 842.2 L2234.0 823.6 L2238.1 819.5 L2242.3 803.9 L2246.4 809.1 L2250.6 818.4 L2254.7 800.8 L2258.8 788.4 L2263.0 786.3 L2267.1 785.3 L2271.3 782.2 L2274.4 787.4 L2276.4 778.1 L2279.5 771.8 L2283.7 773.9 L2286.8 787.4 L2289.9 802.9 L2294.0 802.9 L2298.2 793.6 L2301.3 788.4 L2304.4 793.6 L2307.5 794.6 L2311.6 805.0 L2315.8 790.5 L2319.9 787.4 L2323.0 768.7 L2327.2 761.5 L2333.4 756.3 L2340.0 757.3 L2344.1 767.0 L2348.3 758.8 L2351.4 769.1 L2355.5 761.9 L2360.7 734.9 L2364.8 739.1 L2368.0 750.5 L2371.1 753.6 L2376.2 761.9 L2379.3 751.5 L2381.4 721.5 L2384.5 717.3 L2389.7 714.2 L2391.8 700.8 L2393.8 663.5 L2396.9 661.4 L2400.0 669.7 L2402.1 656.3 L2406.3 654.2 L2410.4 658.3 L2413.5 656.3 L2417.6 642.8 L2419.7 624.2 L2422.8 622.1 L2427.0 626.3 L2429.0 645.9 L2432.1 650.1 L2435.2 634.5 L2439.4 630.4 L2442.5 629.4 L2446.6 634.5 L2450.8 635.6 L2452.8 623.1 L2455.9 629.4 L2459.0 620.0 L2463.2 614.9 L2466.3 631.4 L2468.4 614.9 L2472.5 620.0 L2475.6 613.8 L2478.7 614.9 L2481.8 602.4 L2484.9 597.3 L2488.0 620.0 L2491.1 628.3 L2495.3 630.4 L2499.4 639.7 L2502.5 639.7 L2505.6 621.1 L2508.7 631.4 L2511.8 639.7 L2516.0 641.8 L2519.1 648.0 L2525.3 640.7 L2527.4 631.4 L2530.5 626.3 L2533.6 625.2 L2536.7 610.7 L2539.8 628.3 L2543.9 649.0 L2546.0 639.7 L2550.1 639.7 L2555.3 640.7 L2559.5 618.0 L2564.6 604.5 L2568.8 614.9 L2571.9 610.7 L2575.0 597.3 L2579.1 606.6 L2584.3 603.5 L2587.4 611.8 L2592.6 614.9 L2596.7 601.4 L2600.9 611.8 L2605.0 628.3 L2608.1 614.9 L2612.3 631.4 L2619.5 632.5 L2625.7 629.4 L2628.8 633.5 L2631.9 627.3 L2635.0 631.4 L2638.1 628.3 L2640.0 631.6 L2644.4 637.2 L2647.7 632.8 L2651.0 625.1 L2654.4 633.9 L2658.8 632.8 L2662.1 657.1 L2665.4 681.4 L2670.9 682.5 L2675.4 658.2 L2676.5 640.5 L2678.7 672.6 L2682.0 670.4 L2684.2 654.9 L2687.5 660.4 L2690.8 672.6 L2694.1 683.6 L2696.3 707.9 L2698.6 690.2 L2701.9 684.7 L2704.1 696.9 L2706.3 683.6 L2710.7 682.5 L2714.0 685.8 L2717.3 690.2 L2719.5 671.5 L2722.9 682.5 L2727.3 684.7 L2730.6 672.6 L2733.9 668.1 L2740.5 669.3 L2743.8 686.9 L2746.1 691.3 L2750.5 691.3 L2752.7 678.1 L2754.9 690.2 L2758.2 685.8 L2762.6 684.7 L2765.9 709.0 L2770.4 719.0 L2773.7 688.0 L2775.9 703.5 L2780.3 677.0 L2783.6 684.7 L2786.9 682.5 L2790.2 684.7 L2794.7 679.2 L2798.0 680.3 L2802.4 678.1 L2805.7 643.8 L2809.0 642.7 L2814.5 638.3 L2819.0 642.7 L2822.3 637.2 L2825.6 641.6 L2828.9 631.7 L2832.2 630.6 L2836.6 640.5 L2841.1 633.9 L2844.4 629.5 L2846.6 608.5 L2849.9 606.3 L2853.2 603.0 L2856.5 607.4 L2857.5 606.9" fill="none" stroke="#000" stroke-width="5.0" stroke-linejoin="round" stroke-linecap="round"/><text x="298.8" y="373.6" text-anchor="end" font-family="Liberation Serif" font-size="29.5" fill="#383f4d">300K</text><text x="298.8" y="532.72" text-anchor="end" font-family="Liberation Serif" font-size="29.5" fill="#383f4d">200K</text><text x="298.8" y="691.84" text-anchor="end" font-family="Liberation Serif" font-size="29.5" fill="#383f4d">100K</text><text x="298.8" y="850.96" text-anchor="end" font-family="Liberation Serif" font-size="29.5" fill="#383f4d">0</text><text x="298.8" y="1010.08" text-anchor="end" font-family="Liberation Serif" font-size="29.5" fill="#383f4d">-100K</text><text x="298.8" y="1169.2" text-anchor="end" font-family="Liberation Serif" font-size="29.5" fill="#383f4d">-200K</text><text x="298.8" y="1328.3200000000002" text-anchor="end" font-family="Liberation Serif" font-size="29.5" fill="#383f4d">-300K</text><text x="2902" y="373.0" font-family="Liberation Serif" font-size="29.5" fill="#383f4d">$200k</text><text x="2902" y="627.3" font-family="Liberation Serif" font-size="29.5" fill="#383f4d">$100k</text><text x="2902" y="758.1559578506076" font-family="Liberation Serif" font-size="29.5" fill="#383f4d">$70k</text><text x="2902" y="881.6" font-family="Liberation Serif" font-size="29.5" fill="#383f4d">$50k</text><text x="2902" y="1069.0103505964662" font-family="Liberation Serif" font-size="29.5" fill="#383f4d">$30k</text><text x="2902" y="1217.7663145298561" font-family="Liberation Serif" font-size="29.5" fill="#383f4d">$20k</text><text x="2902" y="1472.0663145298563" font-family="Liberation Serif" font-size="29.5" fill="#383f4d">$10k</text><text x="427.8" y="1529.5" text-anchor="middle" font-family="Liberation Sans" font-size="31.5" fill="#383f4d">Oct &#39;22</text><text x="583.1" y="1529.5" text-anchor="middle" font-family="Liberation Sans" font-size="31.5" fill="#383f4d">Dec &#39;22</text><text x="741.1" y="1529.5" text-anchor="middle" font-family="Liberation Sans" font-size="31.5" fill="#383f4d">Feb &#39;23</text><text x="891.3" y="1529.5" text-anchor="middle" font-family="Liberation Sans" font-size="31.5" fill="#383f4d">Apr &#39;23</text><text x="1046.6" y="1529.5" text-anchor="middle" font-family="Liberation Sans" font-size="31.5" fill="#383f4d">Jun &#39;23</text><text x="1201.9" y="1529.5" text-anchor="middle" font-family="Liberation Sans" font-size="31.5" fill="#383f4d">Aug &#39;23</text><text x="1357.5" y="1529.5" text-anchor="middle" font-family="Liberation Sans" font-size="31.5" fill="#383f4d">Oct &#39;23</text><text x="1512.3" y="1529.5" text-anchor="middle" font-family="Liberation Sans" font-size="31.5" fill="#383f4d">Dec &#39;23</text><text x="1670.7" y="1529.5" text-anchor="middle" font-family="Liberation Sans" font-size="31.5" fill="#383f4d">Feb &#39;24</text><text x="1823.3" y="1529.5" text-anchor="middle" font-family="Liberation Sans" font-size="31.5" fill="#383f4d">Apr &#39;24</text><text x="1978.6" y="1529.5" text-anchor="middle" font-family="Liberation Sans" font-size="31.5" fill="#383f4d">Jun &#39;24</text><text x="2133.9" y="1529.5" text-anchor="middle" font-family="Liberation Sans" font-size="31.5" fill="#383f4d">Aug &#39;24</text><text x="2289.2" y="1529.5" text-anchor="middle" font-family="Liberation Sans" font-size="31.5" fill="#383f4d">Oct &#39;24</text><text x="2444.6" y="1529.5" text-anchor="middle" font-family="Liberation Sans" font-size="31.5" fill="#383f4d">Dec &#39;24</text><text x="2602.2" y="1529.5" text-anchor="middle" font-family="Liberation Sans" font-size="31.5" fill="#383f4d">Feb &#39;25</text><text x="2752.4" y="1529.5" text-anchor="middle" font-family="Liberation Sans" font-size="31.5" fill="#383f4d">Apr &#39;25</text><text x="80" y="130" font-family="Liberation Sans" font-size="62.5" fill="#000" textLength="783" lengthAdjust="spacingAndGlyphs">BTC: Illiquid Supply Change</text><circle cx="103.9" cy="236.2" r="8.4" fill="#00cfba"/><text x="120.2" y="244.6" font-family="Liberation Sans" font-size="26.5" fill="#222" textLength="334.0" lengthAdjust="spacingAndGlyphs">Increasing Iliquid Supply [BTC]</text><circle cx="505.9" cy="236.2" r="8.4" fill="#ff4b63"/><text x="523.1" y="244.6" font-family="Liberation Sans" font-size="26.5" fill="#222" textLength="345.7" lengthAdjust="spacingAndGlyphs">Decreasing Iliquid Supply [BTC]</text><circle cx="920.0" cy="236.2" r="8.4" fill="#000"/><text x="936.3" y="244.6" font-family="Liberation Sans" font-size="26.5" fill="#222" textLength="185.4" lengthAdjust="spacingAndGlyphs">BTC: Price [USD]</text><text x="80.6" y="1720.3" font-family="Liberation Sans" font-size="40" fill="#808080" textLength="714.3" lengthAdjust="spacingAndGlyphs">© 2025 Glassnode. All Rights Reserved.</text><g transform="translate(2600,1600) scale(0.23294)"><circle cx="630" cy="475" r="79.5" fill="none" stroke="#d9d9d9" stroke-width="35"/><circle cx="935" cy="475" r="79.5" fill="none" stroke="#d9d9d9" stroke-width="35"/><circle cx="1683" cy="475" r="79.5" fill="none" stroke="#d9d9d9" stroke-width="35"/><circle cx="1897" cy="475" r="79.5" fill="none" stroke="#d9d9d9" stroke-width="35"/><path d="M692 392 L728 383 L728 560 L692 560 Z" fill="#d9d9d9"/><path d="M710 550 A78 78 0 0 1 563 590" fill="none" stroke="#d9d9d9" stroke-width="35"/><path d="M769 308 L806 300 L806 568 L769 568 Z" fill="#d9d9d9"/><path d="M998 392 L1035 383 L1035 568 L998 568 Z" fill="#d9d9d9"/><path transform="translate(0,0)" d="M1188 428 Q1170 395 1137 395 Q1090 395 1090 437 Q1090 462 1137 475 Q1192 490 1192 520 Q1192 555 1137 555 Q1098 555 1080 522" fill="none" stroke="#d9d9d9" stroke-width="35"/><path transform="translate(153,0)" d="M1188 428 Q1170 395 1137 395 Q1090 395 1090 437 Q1090 462 1137 475 Q1192 490 1192 520 Q1192 555 1137 555 Q1098 555 1080 522" fill="none" stroke="#d9d9d9" stroke-width="35"/><path d="M1393 392 L1430 383 L1430 568 L1393 568 Z" fill="#d9d9d9"/><path d="M1411.5 568 V470 Q1411.5 395 1476 395 Q1539.5 395 1539.5 470 V568" fill="none" stroke="#d9d9d9" stroke-width="35"/><path d="M1962 320 L1998 312 L1998 568 L1962 568 Z" fill="#d9d9d9"/><path d="M2204.5 475 A79.5 79.5 0 1 0 2191 521" fill="none" stroke="#d9d9d9" stroke-width="35"/><rect x="2050" y="460" width="168" height="32" fill="#d9d9d9"/></g></svg>
</body></html>
